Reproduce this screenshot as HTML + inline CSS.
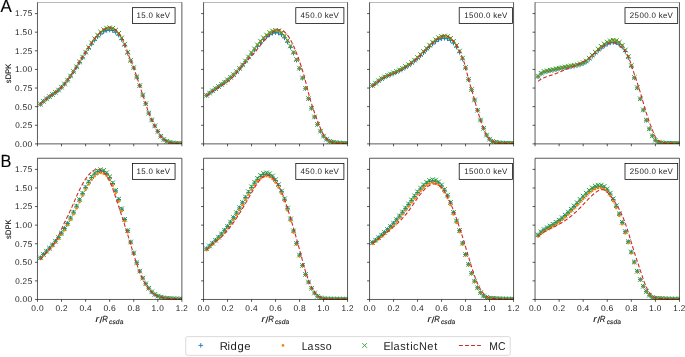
<!DOCTYPE html>
<html><head><meta charset="utf-8"><style>
html,body{margin:0;padding:0;background:#fff;}
svg{display:block;}
text{-webkit-font-smoothing:antialiased;text-rendering:geometricPrecision;}
text{font-family:"Liberation Sans", sans-serif;}
</style></head><body>
<svg width="685" height="357" viewBox="0 0 685 357" font-family="Liberation Sans, sans-serif">
<rect width="685" height="357" fill="#fff"/>
<defs>
<clipPath id="c00"><rect x="37.46" y="2.42" width="144.42" height="141.46"/></clipPath>
<clipPath id="c01"><rect x="203.55" y="2.42" width="144.00" height="141.46"/></clipPath>
<clipPath id="c02"><rect x="369.55" y="2.42" width="144.00" height="141.46"/></clipPath>
<clipPath id="c03"><rect x="535.05" y="2.42" width="144.40" height="141.46"/></clipPath>
<clipPath id="c10"><rect x="37.46" y="158.25" width="144.42" height="141.21"/></clipPath>
<clipPath id="c11"><rect x="203.55" y="158.25" width="144.00" height="141.21"/></clipPath>
<clipPath id="c12"><rect x="369.55" y="158.25" width="144.00" height="141.21"/></clipPath>
<clipPath id="c13"><rect x="535.05" y="158.25" width="144.40" height="141.21"/></clipPath>
</defs>
<g clip-path="url(#c00)">
<path d="M38.17 104.27h4.60M40.47 101.97v4.60M41.18 101.35h4.60M43.48 99.05v4.60M44.19 98.89h4.60M46.49 96.59v4.60M47.20 96.70h4.60M49.50 94.40v4.60M50.20 94.63h4.60M52.50 92.33v4.60M53.21 92.49h4.60M55.51 90.19v4.60M56.22 90.13h4.60M58.52 87.83v4.60M59.23 87.37h4.60M61.53 85.07v4.60M62.24 84.10h4.60M64.54 81.80v4.60M65.25 80.36h4.60M67.55 78.06v4.60M68.26 76.23h4.60M70.56 73.93v4.60M71.27 71.82h4.60M73.56 69.52v4.60M74.27 67.20h4.60M76.57 64.90v4.60M77.28 62.47h4.60M79.58 60.17v4.60M80.29 57.70h4.60M82.59 55.40v4.60M83.30 53.00h4.60M85.60 50.70v4.60M86.31 48.45h4.60M88.61 46.15v4.60M89.32 44.15h4.60M91.62 41.85v4.60M92.33 40.23h4.60M94.63 37.93v4.60M95.33 36.79h4.60M97.63 34.49v4.60M98.34 33.94h4.60M100.64 31.64v4.60M101.35 31.78h4.60M103.65 29.48v4.60M104.36 30.42h4.60M106.66 28.12v4.60M107.37 29.96h4.60M109.67 27.66v4.60M110.38 30.51h4.60M112.68 28.21v4.60M113.39 32.20h4.60M115.69 29.90v4.60M116.40 35.14h4.60M118.70 32.84v4.60M119.41 39.48h4.60M121.71 37.18v4.60M122.41 45.41h4.60M124.71 43.11v4.60M125.42 53.28h4.60M127.72 50.98v4.60M128.43 61.02h4.60M130.73 58.72v4.60M131.44 67.96h4.60M133.74 65.66v4.60M134.45 77.09h4.60M136.75 74.79v4.60M137.46 85.70h4.60M139.76 83.40v4.60M140.47 95.06h4.60M142.77 92.76v4.60M143.47 103.73h4.60M145.78 101.43v4.60M146.48 113.05h4.60M148.78 110.75v4.60M149.49 119.91h4.60M151.79 117.61v4.60M152.50 125.88h4.60M154.80 123.58v4.60M155.51 131.48h4.60M157.81 129.18v4.60M158.52 136.28h4.60M160.82 133.98v4.60M161.53 139.44h4.60M163.83 137.14v4.60M164.54 141.27h4.60M166.84 138.97v4.60M167.54 142.42h4.60M169.84 140.12v4.60M170.55 142.98h4.60M172.85 140.68v4.60M173.56 143.25h4.60M175.86 140.95v4.60M176.57 143.44h4.60M178.87 141.14v4.60M179.58 143.51h4.60M181.88 141.21v4.60" stroke="#1f77b4" stroke-width="1.0" fill="none"/>
<circle cx="40.47" cy="104.23" r="1.35" fill="#ff7f0e"/>
<circle cx="43.48" cy="101.31" r="1.35" fill="#ff7f0e"/>
<circle cx="46.49" cy="98.84" r="1.35" fill="#ff7f0e"/>
<circle cx="49.50" cy="96.64" r="1.35" fill="#ff7f0e"/>
<circle cx="52.50" cy="94.55" r="1.35" fill="#ff7f0e"/>
<circle cx="55.51" cy="92.40" r="1.35" fill="#ff7f0e"/>
<circle cx="58.52" cy="90.02" r="1.35" fill="#ff7f0e"/>
<circle cx="61.53" cy="87.25" r="1.35" fill="#ff7f0e"/>
<circle cx="64.54" cy="83.94" r="1.35" fill="#ff7f0e"/>
<circle cx="67.55" cy="80.16" r="1.35" fill="#ff7f0e"/>
<circle cx="70.56" cy="75.97" r="1.35" fill="#ff7f0e"/>
<circle cx="73.56" cy="71.48" r="1.35" fill="#ff7f0e"/>
<circle cx="76.57" cy="66.77" r="1.35" fill="#ff7f0e"/>
<circle cx="79.58" cy="61.91" r="1.35" fill="#ff7f0e"/>
<circle cx="82.59" cy="57.01" r="1.35" fill="#ff7f0e"/>
<circle cx="85.60" cy="52.13" r="1.35" fill="#ff7f0e"/>
<circle cx="88.61" cy="47.38" r="1.35" fill="#ff7f0e"/>
<circle cx="91.62" cy="42.87" r="1.35" fill="#ff7f0e"/>
<circle cx="94.63" cy="38.73" r="1.35" fill="#ff7f0e"/>
<circle cx="97.63" cy="35.07" r="1.35" fill="#ff7f0e"/>
<circle cx="100.64" cy="32.02" r="1.35" fill="#ff7f0e"/>
<circle cx="103.65" cy="29.69" r="1.35" fill="#ff7f0e"/>
<circle cx="106.66" cy="28.22" r="1.35" fill="#ff7f0e"/>
<circle cx="109.67" cy="27.72" r="1.35" fill="#ff7f0e"/>
<circle cx="112.68" cy="28.33" r="1.35" fill="#ff7f0e"/>
<circle cx="115.69" cy="30.15" r="1.35" fill="#ff7f0e"/>
<circle cx="118.70" cy="33.31" r="1.35" fill="#ff7f0e"/>
<circle cx="121.71" cy="37.94" r="1.35" fill="#ff7f0e"/>
<circle cx="124.71" cy="44.20" r="1.35" fill="#ff7f0e"/>
<circle cx="127.72" cy="52.42" r="1.35" fill="#ff7f0e"/>
<circle cx="130.73" cy="60.42" r="1.35" fill="#ff7f0e"/>
<circle cx="133.74" cy="67.55" r="1.35" fill="#ff7f0e"/>
<circle cx="136.75" cy="76.84" r="1.35" fill="#ff7f0e"/>
<circle cx="139.76" cy="85.56" r="1.35" fill="#ff7f0e"/>
<circle cx="142.77" cy="94.99" r="1.35" fill="#ff7f0e"/>
<circle cx="145.78" cy="103.70" r="1.35" fill="#ff7f0e"/>
<circle cx="148.78" cy="113.04" r="1.35" fill="#ff7f0e"/>
<circle cx="151.79" cy="119.91" r="1.35" fill="#ff7f0e"/>
<circle cx="154.80" cy="125.88" r="1.35" fill="#ff7f0e"/>
<circle cx="157.81" cy="131.48" r="1.35" fill="#ff7f0e"/>
<circle cx="160.82" cy="136.28" r="1.35" fill="#ff7f0e"/>
<circle cx="163.83" cy="139.44" r="1.35" fill="#ff7f0e"/>
<circle cx="166.84" cy="141.27" r="1.35" fill="#ff7f0e"/>
<circle cx="169.84" cy="142.42" r="1.35" fill="#ff7f0e"/>
<circle cx="172.85" cy="142.98" r="1.35" fill="#ff7f0e"/>
<circle cx="175.86" cy="143.25" r="1.35" fill="#ff7f0e"/>
<circle cx="178.87" cy="143.44" r="1.35" fill="#ff7f0e"/>
<circle cx="181.88" cy="143.51" r="1.35" fill="#ff7f0e"/>
<path d="M38.17 101.93l4.60 4.60M38.17 106.53l4.60 -4.60M41.18 99.01l4.60 4.60M41.18 103.61l4.60 -4.60M44.19 96.54l4.60 4.60M44.19 101.14l4.60 -4.60M47.20 94.34l4.60 4.60M47.20 98.94l4.60 -4.60M50.20 92.25l4.60 4.60M50.20 96.85l4.60 -4.60M53.21 90.10l4.60 4.60M53.21 94.70l4.60 -4.60M56.22 87.72l4.60 4.60M56.22 92.32l4.60 -4.60M59.23 84.95l4.60 4.60M59.23 89.55l4.60 -4.60M62.24 81.64l4.60 4.60M62.24 86.24l4.60 -4.60M65.25 77.86l4.60 4.60M65.25 82.46l4.60 -4.60M68.26 73.67l4.60 4.60M68.26 78.27l4.60 -4.60M71.27 69.18l4.60 4.60M71.27 73.78l4.60 -4.60M74.27 64.47l4.60 4.60M74.27 69.07l4.60 -4.60M77.28 59.61l4.60 4.60M77.28 64.21l4.60 -4.60M80.29 54.71l4.60 4.60M80.29 59.31l4.60 -4.60M83.30 49.83l4.60 4.60M83.30 54.43l4.60 -4.60M86.31 45.08l4.60 4.60M86.31 49.68l4.60 -4.60M89.32 40.57l4.60 4.60M89.32 45.17l4.60 -4.60M92.33 36.43l4.60 4.60M92.33 41.03l4.60 -4.60M95.33 32.77l4.60 4.60M95.33 37.37l4.60 -4.60M98.34 29.72l4.60 4.60M98.34 34.32l4.60 -4.60M101.35 27.39l4.60 4.60M101.35 31.99l4.60 -4.60M104.36 25.92l4.60 4.60M104.36 30.52l4.60 -4.60M107.37 25.42l4.60 4.60M107.37 30.02l4.60 -4.60M110.38 26.03l4.60 4.60M110.38 30.63l4.60 -4.60M113.39 27.85l4.60 4.60M113.39 32.45l4.60 -4.60M116.40 31.01l4.60 4.60M116.40 35.61l4.60 -4.60M119.41 35.64l4.60 4.60M119.41 40.24l4.60 -4.60M122.41 41.90l4.60 4.60M122.41 46.50l4.60 -4.60M125.42 50.12l4.60 4.60M125.42 54.72l4.60 -4.60M128.43 58.12l4.60 4.60M128.43 62.72l4.60 -4.60M131.44 65.25l4.60 4.60M131.44 69.85l4.60 -4.60M134.45 74.54l4.60 4.60M134.45 79.14l4.60 -4.60M137.46 83.26l4.60 4.60M137.46 87.86l4.60 -4.60M140.47 92.69l4.60 4.60M140.47 97.29l4.60 -4.60M143.47 101.40l4.60 4.60M143.47 106.00l4.60 -4.60M146.48 110.74l4.60 4.60M146.48 115.34l4.60 -4.60M149.49 117.61l4.60 4.60M149.49 122.21l4.60 -4.60M152.50 123.58l4.60 4.60M152.50 128.18l4.60 -4.60M155.51 129.18l4.60 4.60M155.51 133.78l4.60 -4.60M158.52 133.98l4.60 4.60M158.52 138.58l4.60 -4.60M161.53 137.14l4.60 4.60M161.53 141.74l4.60 -4.60M164.54 138.97l4.60 4.60M164.54 143.57l4.60 -4.60M167.54 140.12l4.60 4.60M167.54 144.72l4.60 -4.60M170.55 140.68l4.60 4.60M170.55 145.28l4.60 -4.60M173.56 140.95l4.60 4.60M173.56 145.55l4.60 -4.60M176.57 141.14l4.60 4.60M176.57 145.74l4.60 -4.60M179.58 141.21l4.60 4.60M179.58 145.81l4.60 -4.60" stroke="#2ca02c" stroke-width="1.0" fill="none"/>
<polyline points="40.47,104.23 41.07,103.61 41.67,103.00 42.27,102.42 42.88,101.86 43.48,101.31 44.08,100.79 44.68,100.28 45.28,99.79 45.88,99.31 46.49,98.84 47.09,98.38 47.69,97.94 48.29,97.50 48.89,97.07 49.50,96.64 50.10,96.22 50.70,95.80 51.30,95.39 51.90,94.97 52.50,94.55 53.11,94.13 53.71,93.71 54.31,93.28 54.91,92.85 55.51,92.40 56.11,91.95 56.72,91.49 57.32,91.01 57.92,90.53 58.52,90.02 59.12,89.51 59.72,88.97 60.33,88.42 60.93,87.84 61.53,87.25 62.13,86.63 62.73,85.99 63.34,85.33 63.94,84.64 64.54,83.94 65.14,83.22 65.74,82.48 66.34,81.72 66.95,80.95 67.55,80.16 68.15,79.35 68.75,78.53 69.35,77.69 69.95,76.84 70.56,75.97 71.16,75.10 71.76,74.21 72.36,73.31 72.96,72.40 73.56,71.48 74.17,70.55 74.77,69.62 75.37,68.67 75.97,67.72 76.57,66.77 77.18,65.80 77.78,64.84 78.38,63.86 78.98,62.89 79.58,61.91 80.18,60.93 80.79,59.95 81.39,58.97 81.99,57.99 82.59,57.01 83.19,56.03 83.79,55.05 84.40,54.07 85.00,53.10 85.60,52.13 86.20,51.17 86.80,50.21 87.41,49.26 88.01,48.32 88.61,47.38 89.21,46.46 89.81,45.54 90.41,44.64 91.02,43.75 91.62,42.87 92.22,42.01 92.82,41.17 93.42,40.34 94.02,39.52 94.63,38.73 95.23,37.95 95.83,37.20 96.43,36.47 97.03,35.76 97.63,35.07 98.24,34.41 98.84,33.77 99.44,33.16 100.04,32.57 100.64,32.02 101.25,31.49 101.85,30.99 102.45,30.53 103.05,30.09 103.65,29.69 104.25,29.33 104.86,28.99 105.46,28.70 106.06,28.44 106.66,28.22 107.26,28.04 107.86,27.90 108.47,27.80 109.07,27.74 109.67,27.72 110.27,27.75 110.87,27.83 111.48,27.95 112.08,28.11 112.68,28.33 113.28,28.59 113.88,28.90 114.48,29.26 115.09,29.68 115.69,30.15 116.29,30.67 116.89,31.24 117.49,31.88 118.09,32.56 118.70,33.31 119.30,34.11 119.90,34.98 120.50,35.90 121.10,36.89 121.71,37.94 122.31,39.05 122.91,40.23 123.51,41.48 124.11,42.80 124.71,44.20 125.32,45.68 125.92,47.24 126.52,48.89 127.12,50.62 127.72,52.42 128.32,54.23 128.93,55.97 129.53,57.58 130.13,59.05 130.73,60.42 131.33,61.76 131.93,63.09 132.54,64.47 133.14,65.94 133.74,67.55 134.34,69.32 134.94,71.21 135.55,73.14 136.15,75.03 136.75,76.84 137.35,78.58 137.95,80.28 138.55,81.99 139.16,83.74 139.76,85.56 140.36,87.47 140.96,89.42 141.56,91.35 142.16,93.22 142.77,94.99 143.37,96.70 143.97,98.39 144.57,100.09 145.17,101.85 145.78,103.70 146.38,105.64 146.98,107.62 147.58,109.56 148.18,111.38 148.78,113.04 149.39,114.56 149.99,115.98 150.59,117.32 151.19,118.62 151.79,119.91 152.39,121.17 153.00,122.40 153.60,123.60 154.20,124.75 154.80,125.88 155.40,126.97 156.00,128.05 156.61,129.15 157.21,130.31 157.81,131.48 158.41,132.62 159.01,133.70 159.62,134.68 160.22,135.54 160.82,136.28 161.42,136.99 162.02,137.67 162.62,138.30 163.23,138.90 163.83,139.44 164.43,139.92 165.03,140.34 165.63,140.69 166.23,140.99 166.84,141.27 167.44,141.54 168.04,141.79 168.64,142.02 169.24,142.23 169.84,142.42 170.45,142.58 171.05,142.72 171.65,142.83 172.25,142.91 172.85,142.98 173.46,143.04 174.06,143.10 174.66,143.15 175.26,143.21 175.86,143.25 176.46,143.30 177.07,143.34 177.67,143.38 178.27,143.41 178.87,143.44 179.47,143.46 180.07,143.48 180.68,143.50 181.28,143.50 181.88,143.51" stroke="#d62728" stroke-width="1.1" fill="none" stroke-dasharray="3.9 2.2"/>
</g>
<path d="M34.96 143.88H37.46M34.96 125.27H37.46M34.96 106.65H37.46M34.96 88.04H37.46M34.96 69.43H37.46M34.96 50.81H37.46M34.96 32.20H37.46M34.96 13.59H37.46M37.46 143.88V146.28M61.53 143.88V146.28M85.60 143.88V146.28M109.67 143.88V146.28M133.74 143.88V146.28M157.81 143.88V146.28M181.88 143.88V146.28" stroke="#000" stroke-width="0.65" fill="none"/>
<path d="M37.46 2.42V143.88M181.88 2.42V143.88M37.46 143.88H181.88" stroke="#000" stroke-width="0.65" fill="none"/>
<path d="M37.16 2.5H182.18" stroke="#000" stroke-opacity="0.27" stroke-width="1" fill="none"/>
<rect x="132.46" y="7.67" width="42.60" height="15.85" fill="#fff" stroke="#000" stroke-width="0.75"/>
<g clip-path="url(#c01)">
<path d="M204.25 95.41h4.60M206.55 93.11v4.60M207.25 93.12h4.60M209.55 90.82v4.60M210.25 90.93h4.60M212.55 88.63v4.60M213.25 88.81h4.60M215.55 86.51v4.60M216.25 86.70h4.60M218.55 84.40v4.60M219.25 84.58h4.60M221.55 82.28v4.60M222.25 82.38h4.60M224.55 80.08v4.60M225.25 80.07h4.60M227.55 77.77v4.60M228.25 77.61h4.60M230.55 75.31v4.60M231.25 74.94h4.60M233.55 72.64v4.60M234.25 72.04h4.60M236.55 69.74v4.60M237.25 68.86h4.60M239.55 66.56v4.60M240.25 65.37h4.60M242.55 63.07v4.60M243.25 61.63h4.60M245.55 59.33v4.60M246.25 57.75h4.60M248.55 55.45v4.60M249.25 53.82h4.60M251.55 51.52v4.60M252.25 49.95h4.60M254.55 47.65v4.60M255.25 46.22h4.60M257.55 43.92v4.60M258.25 42.74h4.60M260.55 40.44v4.60M261.25 39.60h4.60M263.55 37.30v4.60M264.25 36.88h4.60M266.55 34.58v4.60M267.25 34.69h4.60M269.55 32.39v4.60M270.25 33.20h4.60M272.55 30.90v4.60M273.25 32.59h4.60M275.55 30.29v4.60M276.25 33.03h4.60M278.55 30.73v4.60M279.25 34.73h4.60M281.55 32.43v4.60M282.25 37.80h4.60M284.55 35.50v4.60M285.25 42.05h4.60M287.55 39.75v4.60M288.25 47.22h4.60M290.55 44.92v4.60M291.25 53.16h4.60M293.55 50.86v4.60M294.25 60.21h4.60M296.55 57.91v4.60M297.25 68.61h4.60M299.55 66.31v4.60M300.25 78.15h4.60M302.55 75.85v4.60M303.25 88.42h4.60M305.55 86.12v4.60M306.25 98.66h4.60M308.55 96.36v4.60M309.25 108.25h4.60M311.55 105.95v4.60M312.25 116.97h4.60M314.55 114.67v4.60M315.25 124.41h4.60M317.55 122.11v4.60M318.25 131.16h4.60M320.55 128.86v4.60M321.25 136.12h4.60M323.55 133.82v4.60M324.25 139.23h4.60M326.55 136.93v4.60M327.25 141.29h4.60M329.55 138.99v4.60M330.25 142.15h4.60M332.55 139.85v4.60M333.25 142.65h4.60M335.55 140.35v4.60M336.25 142.97h4.60M338.55 140.67v4.60M339.25 143.23h4.60M341.55 140.93v4.60M342.25 143.43h4.60M344.55 141.13v4.60M345.25 143.51h4.60M347.55 141.21v4.60" stroke="#1f77b4" stroke-width="1.0" fill="none"/>
<circle cx="206.55" cy="95.33" r="1.35" fill="#ff7f0e"/>
<circle cx="209.55" cy="93.03" r="1.35" fill="#ff7f0e"/>
<circle cx="212.55" cy="90.82" r="1.35" fill="#ff7f0e"/>
<circle cx="215.55" cy="88.68" r="1.35" fill="#ff7f0e"/>
<circle cx="218.55" cy="86.56" r="1.35" fill="#ff7f0e"/>
<circle cx="221.55" cy="84.41" r="1.35" fill="#ff7f0e"/>
<circle cx="224.55" cy="82.18" r="1.35" fill="#ff7f0e"/>
<circle cx="227.55" cy="79.84" r="1.35" fill="#ff7f0e"/>
<circle cx="230.55" cy="77.34" r="1.35" fill="#ff7f0e"/>
<circle cx="233.55" cy="74.63" r="1.35" fill="#ff7f0e"/>
<circle cx="236.55" cy="71.68" r="1.35" fill="#ff7f0e"/>
<circle cx="239.55" cy="68.42" r="1.35" fill="#ff7f0e"/>
<circle cx="242.55" cy="64.84" r="1.35" fill="#ff7f0e"/>
<circle cx="245.55" cy="61.00" r="1.35" fill="#ff7f0e"/>
<circle cx="248.55" cy="56.98" r="1.35" fill="#ff7f0e"/>
<circle cx="251.55" cy="52.90" r="1.35" fill="#ff7f0e"/>
<circle cx="254.55" cy="48.85" r="1.35" fill="#ff7f0e"/>
<circle cx="257.55" cy="44.93" r="1.35" fill="#ff7f0e"/>
<circle cx="260.55" cy="41.25" r="1.35" fill="#ff7f0e"/>
<circle cx="263.55" cy="37.90" r="1.35" fill="#ff7f0e"/>
<circle cx="266.55" cy="34.99" r="1.35" fill="#ff7f0e"/>
<circle cx="269.55" cy="32.63" r="1.35" fill="#ff7f0e"/>
<circle cx="272.55" cy="31.02" r="1.35" fill="#ff7f0e"/>
<circle cx="275.55" cy="30.36" r="1.35" fill="#ff7f0e"/>
<circle cx="278.55" cy="30.84" r="1.35" fill="#ff7f0e"/>
<circle cx="281.55" cy="32.67" r="1.35" fill="#ff7f0e"/>
<circle cx="284.55" cy="35.97" r="1.35" fill="#ff7f0e"/>
<circle cx="287.55" cy="40.52" r="1.35" fill="#ff7f0e"/>
<circle cx="290.55" cy="45.98" r="1.35" fill="#ff7f0e"/>
<circle cx="293.55" cy="52.21" r="1.35" fill="#ff7f0e"/>
<circle cx="296.55" cy="59.53" r="1.35" fill="#ff7f0e"/>
<circle cx="299.55" cy="68.16" r="1.35" fill="#ff7f0e"/>
<circle cx="302.55" cy="77.89" r="1.35" fill="#ff7f0e"/>
<circle cx="305.55" cy="88.29" r="1.35" fill="#ff7f0e"/>
<circle cx="308.55" cy="98.61" r="1.35" fill="#ff7f0e"/>
<circle cx="311.55" cy="108.23" r="1.35" fill="#ff7f0e"/>
<circle cx="314.55" cy="116.96" r="1.35" fill="#ff7f0e"/>
<circle cx="317.55" cy="124.41" r="1.35" fill="#ff7f0e"/>
<circle cx="320.55" cy="131.16" r="1.35" fill="#ff7f0e"/>
<circle cx="323.55" cy="136.12" r="1.35" fill="#ff7f0e"/>
<circle cx="326.55" cy="139.23" r="1.35" fill="#ff7f0e"/>
<circle cx="329.55" cy="141.29" r="1.35" fill="#ff7f0e"/>
<circle cx="332.55" cy="142.15" r="1.35" fill="#ff7f0e"/>
<circle cx="335.55" cy="142.65" r="1.35" fill="#ff7f0e"/>
<circle cx="338.55" cy="142.97" r="1.35" fill="#ff7f0e"/>
<circle cx="341.55" cy="143.23" r="1.35" fill="#ff7f0e"/>
<circle cx="344.55" cy="143.43" r="1.35" fill="#ff7f0e"/>
<circle cx="347.55" cy="143.51" r="1.35" fill="#ff7f0e"/>
<path d="M204.25 93.03l4.60 4.60M204.25 97.63l4.60 -4.60M207.25 90.73l4.60 4.60M207.25 95.33l4.60 -4.60M210.25 88.52l4.60 4.60M210.25 93.12l4.60 -4.60M213.25 86.38l4.60 4.60M213.25 90.98l4.60 -4.60M216.25 84.26l4.60 4.60M216.25 88.86l4.60 -4.60M219.25 82.11l4.60 4.60M219.25 86.71l4.60 -4.60M222.25 79.88l4.60 4.60M222.25 84.48l4.60 -4.60M225.25 77.54l4.60 4.60M225.25 82.14l4.60 -4.60M228.25 75.04l4.60 4.60M228.25 79.64l4.60 -4.60M231.25 72.33l4.60 4.60M231.25 76.93l4.60 -4.60M234.25 69.38l4.60 4.60M234.25 73.98l4.60 -4.60M237.25 66.12l4.60 4.60M237.25 70.72l4.60 -4.60M240.25 62.54l4.60 4.60M240.25 67.14l4.60 -4.60M243.25 58.70l4.60 4.60M243.25 63.30l4.60 -4.60M246.25 54.68l4.60 4.60M246.25 59.28l4.60 -4.60M249.25 50.60l4.60 4.60M249.25 55.20l4.60 -4.60M252.25 46.55l4.60 4.60M252.25 51.15l4.60 -4.60M255.25 42.63l4.60 4.60M255.25 47.23l4.60 -4.60M258.25 38.95l4.60 4.60M258.25 43.55l4.60 -4.60M261.25 35.60l4.60 4.60M261.25 40.20l4.60 -4.60M264.25 32.69l4.60 4.60M264.25 37.29l4.60 -4.60M267.25 30.33l4.60 4.60M267.25 34.93l4.60 -4.60M270.25 28.72l4.60 4.60M270.25 33.32l4.60 -4.60M273.25 28.06l4.60 4.60M273.25 32.66l4.60 -4.60M276.25 28.54l4.60 4.60M276.25 33.14l4.60 -4.60M279.25 30.37l4.60 4.60M279.25 34.97l4.60 -4.60M282.25 33.67l4.60 4.60M282.25 38.27l4.60 -4.60M285.25 38.22l4.60 4.60M285.25 42.82l4.60 -4.60M288.25 43.68l4.60 4.60M288.25 48.28l4.60 -4.60M291.25 49.91l4.60 4.60M291.25 54.51l4.60 -4.60M294.25 57.23l4.60 4.60M294.25 61.83l4.60 -4.60M297.25 65.86l4.60 4.60M297.25 70.46l4.60 -4.60M300.25 75.59l4.60 4.60M300.25 80.19l4.60 -4.60M303.25 85.99l4.60 4.60M303.25 90.59l4.60 -4.60M306.25 96.31l4.60 4.60M306.25 100.91l4.60 -4.60M309.25 105.93l4.60 4.60M309.25 110.53l4.60 -4.60M312.25 114.66l4.60 4.60M312.25 119.26l4.60 -4.60M315.25 122.11l4.60 4.60M315.25 126.71l4.60 -4.60M318.25 128.86l4.60 4.60M318.25 133.46l4.60 -4.60M321.25 133.82l4.60 4.60M321.25 138.42l4.60 -4.60M324.25 136.93l4.60 4.60M324.25 141.53l4.60 -4.60M327.25 138.99l4.60 4.60M327.25 143.59l4.60 -4.60M330.25 139.85l4.60 4.60M330.25 144.45l4.60 -4.60M333.25 140.35l4.60 4.60M333.25 144.95l4.60 -4.60M336.25 140.67l4.60 4.60M336.25 145.27l4.60 -4.60M339.25 140.93l4.60 4.60M339.25 145.53l4.60 -4.60M342.25 141.13l4.60 4.60M342.25 145.73l4.60 -4.60M345.25 141.21l4.60 4.60M345.25 145.81l4.60 -4.60" stroke="#2ca02c" stroke-width="1.0" fill="none"/>
<polyline points="206.55,96.16 207.15,95.63 207.75,95.11 208.35,94.60 208.95,94.11 209.55,93.64 210.15,93.17 210.75,92.72 211.35,92.28 211.95,91.85 212.55,91.44 213.15,91.02 213.75,90.62 214.35,90.23 214.95,89.84 215.55,89.45 216.15,89.07 216.75,88.70 217.35,88.33 217.95,87.95 218.55,87.59 219.15,87.22 219.75,86.85 220.35,86.48 220.95,86.10 221.55,85.73 222.15,85.35 222.75,84.97 223.35,84.58 223.95,84.18 224.55,83.78 225.15,83.37 225.75,82.95 226.35,82.52 226.95,82.08 227.55,81.63 228.15,81.17 228.75,80.69 229.35,80.20 229.95,79.70 230.55,79.18 231.15,78.65 231.75,78.09 232.35,77.52 232.95,76.93 233.55,76.33 234.15,75.70 234.75,75.05 235.35,74.38 235.95,73.69 236.55,72.98 237.15,72.27 237.75,71.54 238.35,70.80 238.95,70.06 239.55,69.31 240.15,68.56 240.75,67.81 241.35,67.06 241.95,66.32 242.55,65.58 243.15,64.86 243.75,64.14 244.35,63.44 244.95,62.76 245.55,62.10 246.15,61.45 246.75,60.82 247.35,60.21 247.95,59.60 248.55,59.01 249.15,58.41 249.75,57.82 250.35,57.23 250.95,56.62 251.55,56.01 252.15,55.38 252.75,54.74 253.35,54.08 253.95,53.39 254.55,52.70 255.15,51.99 255.75,51.26 256.35,50.53 256.95,49.78 257.55,49.03 258.15,48.28 258.75,47.52 259.35,46.75 259.95,45.99 260.55,45.22 261.15,44.46 261.75,43.70 262.35,42.95 262.95,42.20 263.55,41.46 264.15,40.73 264.75,40.02 265.35,39.31 265.95,38.62 266.55,37.94 267.15,37.28 267.75,36.63 268.35,36.01 268.95,35.41 269.55,34.83 270.15,34.27 270.75,33.74 271.35,33.23 271.95,32.76 272.55,32.31 273.15,31.90 273.75,31.52 274.35,31.17 274.95,30.86 275.55,30.59 276.15,30.35 276.75,30.16 277.35,30.00 277.95,29.89 278.55,29.83 279.15,29.81 279.75,29.83 280.35,29.91 280.95,30.04 281.55,30.22 282.15,30.45 282.75,30.74 283.35,31.08 283.95,31.48 284.55,31.94 285.15,32.46 285.75,33.05 286.35,33.70 286.95,34.41 287.55,35.18 288.15,36.01 288.75,36.90 289.35,37.85 289.95,38.85 290.55,39.91 291.15,41.02 291.75,42.19 292.35,43.40 292.95,44.67 293.55,45.98 294.15,47.34 294.75,48.74 295.35,50.19 295.95,51.68 296.55,53.21 297.15,54.78 297.75,56.39 298.35,58.03 298.95,59.72 299.55,61.44 300.15,63.20 300.75,65.00 301.35,66.84 301.95,68.74 302.55,70.69 303.15,72.68 303.75,74.74 304.35,76.85 304.95,79.03 305.55,81.27 306.15,83.57 306.75,85.94 307.35,88.37 307.95,90.82 308.55,93.24 309.15,95.58 309.75,97.79 310.35,99.89 310.95,101.87 311.55,103.78 312.15,105.63 312.75,107.45 313.35,109.24 313.95,111.02 314.55,112.78 315.15,114.51 315.75,116.22 316.35,117.89 316.95,119.50 317.55,121.04 318.15,122.54 318.75,124.00 319.35,125.48 319.95,126.99 320.55,128.50 321.15,129.97 321.75,131.32 322.35,132.52 322.95,133.64 323.55,134.71 324.15,135.70 324.75,136.60 325.35,137.39 325.95,138.07 326.55,138.68 327.15,139.25 327.75,139.79 328.35,140.29 328.95,140.73 329.55,141.11 330.15,141.42 330.75,141.65 331.35,141.83 331.95,141.99 332.55,142.14 333.15,142.28 333.75,142.40 334.35,142.52 334.95,142.62 335.55,142.71 336.15,142.79 336.75,142.87 337.35,142.93 337.95,142.99 338.55,143.04 339.15,143.09 339.75,143.14 340.35,143.18 340.95,143.23 341.55,143.27 342.15,143.31 342.75,143.35 343.35,143.38 343.95,143.42 344.55,143.44 345.15,143.47 345.75,143.48 346.35,143.50 346.95,143.50 347.55,143.51" stroke="#d62728" stroke-width="1.1" fill="none" stroke-dasharray="3.9 2.2"/>
</g>
<path d="M201.05 143.88H203.55M201.05 125.27H203.55M201.05 106.65H203.55M201.05 88.04H203.55M201.05 69.43H203.55M201.05 50.81H203.55M201.05 32.20H203.55M201.05 13.59H203.55M203.55 143.88V146.28M227.55 143.88V146.28M251.55 143.88V146.28M275.55 143.88V146.28M299.55 143.88V146.28M323.55 143.88V146.28M347.55 143.88V146.28" stroke="#000" stroke-width="0.65" fill="none"/>
<path d="M203.55 2.42V143.88M347.55 2.42V143.88M203.55 143.88H347.55" stroke="#000" stroke-width="0.65" fill="none"/>
<path d="M203.25 2.5H347.85" stroke="#000" stroke-opacity="0.27" stroke-width="1" fill="none"/>
<rect x="295.80" y="7.67" width="48.10" height="15.85" fill="#fff" stroke="#000" stroke-width="0.75"/>
<g clip-path="url(#c02)">
<path d="M370.25 85.60h4.60M372.55 83.30v4.60M373.25 83.37h4.60M375.55 81.07v4.60M376.25 80.97h4.60M378.55 78.67v4.60M379.25 78.90h4.60M381.55 76.60v4.60M382.25 77.20h4.60M384.55 74.90v4.60M385.25 75.76h4.60M387.55 73.46v4.60M388.25 74.46h4.60M390.55 72.16v4.60M391.25 73.20h4.60M393.55 70.90v4.60M394.25 71.88h4.60M396.55 69.58v4.60M397.25 70.44h4.60M399.55 68.14v4.60M400.25 68.88h4.60M402.55 66.58v4.60M403.25 67.17h4.60M405.55 64.87v4.60M406.25 65.29h4.60M408.55 62.99v4.60M409.25 63.21h4.60M411.55 60.91v4.60M412.25 60.93h4.60M414.55 58.63v4.60M415.25 58.41h4.60M417.55 56.11v4.60M418.25 55.65h4.60M420.55 53.35v4.60M421.25 52.68h4.60M423.55 50.38v4.60M424.25 49.64h4.60M426.55 47.34v4.60M427.25 46.68h4.60M429.55 44.38v4.60M430.25 43.95h4.60M432.55 41.65v4.60M433.25 41.60h4.60M435.55 39.30v4.60M436.25 39.77h4.60M438.55 37.47v4.60M439.25 38.60h4.60M441.55 36.30v4.60M442.25 38.22h4.60M444.55 35.92v4.60M445.25 38.78h4.60M447.55 36.48v4.60M448.25 40.36h4.60M450.55 38.06v4.60M451.25 43.07h4.60M453.55 40.77v4.60M454.25 47.00h4.60M456.55 44.70v4.60M457.25 52.27h4.60M459.55 49.97v4.60M460.25 59.02h4.60M462.55 56.72v4.60M463.25 67.97h4.60M465.55 65.67v4.60M466.25 79.56h4.60M468.55 77.26v4.60M469.25 89.70h4.60M471.55 87.40v4.60M472.25 100.01h4.60M474.55 97.71v4.60M475.25 110.34h4.60M477.55 108.04v4.60M478.25 120.04h4.60M480.55 117.74v4.60M481.25 128.34h4.60M483.55 126.04v4.60M484.25 135.10h4.60M486.55 132.80v4.60M487.25 139.18h4.60M489.55 136.88v4.60M490.25 141.41h4.60M492.55 139.11v4.60M493.25 142.29h4.60M495.55 139.99v4.60M496.25 142.80h4.60M498.55 140.50v4.60M499.25 143.04h4.60M501.55 140.74v4.60M502.25 143.23h4.60M504.55 140.93v4.60M505.25 143.38h4.60M507.55 141.08v4.60M508.25 143.47h4.60M510.55 141.17v4.60M511.25 143.51h4.60M513.55 141.21v4.60" stroke="#1f77b4" stroke-width="1.0" fill="none"/>
<circle cx="372.55" cy="85.41" r="1.35" fill="#ff7f0e"/>
<circle cx="375.55" cy="83.14" r="1.35" fill="#ff7f0e"/>
<circle cx="378.55" cy="80.70" r="1.35" fill="#ff7f0e"/>
<circle cx="381.55" cy="78.60" r="1.35" fill="#ff7f0e"/>
<circle cx="384.55" cy="76.87" r="1.35" fill="#ff7f0e"/>
<circle cx="387.55" cy="75.40" r="1.35" fill="#ff7f0e"/>
<circle cx="390.55" cy="74.07" r="1.35" fill="#ff7f0e"/>
<circle cx="393.55" cy="72.78" r="1.35" fill="#ff7f0e"/>
<circle cx="396.55" cy="71.42" r="1.35" fill="#ff7f0e"/>
<circle cx="399.55" cy="69.95" r="1.35" fill="#ff7f0e"/>
<circle cx="402.55" cy="68.35" r="1.35" fill="#ff7f0e"/>
<circle cx="405.55" cy="66.58" r="1.35" fill="#ff7f0e"/>
<circle cx="408.55" cy="64.64" r="1.35" fill="#ff7f0e"/>
<circle cx="411.55" cy="62.49" r="1.35" fill="#ff7f0e"/>
<circle cx="414.55" cy="60.12" r="1.35" fill="#ff7f0e"/>
<circle cx="417.55" cy="57.50" r="1.35" fill="#ff7f0e"/>
<circle cx="420.55" cy="54.60" r="1.35" fill="#ff7f0e"/>
<circle cx="423.55" cy="51.48" r="1.35" fill="#ff7f0e"/>
<circle cx="426.55" cy="48.26" r="1.35" fill="#ff7f0e"/>
<circle cx="429.55" cy="45.11" r="1.35" fill="#ff7f0e"/>
<circle cx="432.55" cy="42.19" r="1.35" fill="#ff7f0e"/>
<circle cx="435.55" cy="39.66" r="1.35" fill="#ff7f0e"/>
<circle cx="438.55" cy="37.67" r="1.35" fill="#ff7f0e"/>
<circle cx="441.55" cy="36.40" r="1.35" fill="#ff7f0e"/>
<circle cx="444.55" cy="35.99" r="1.35" fill="#ff7f0e"/>
<circle cx="447.55" cy="36.59" r="1.35" fill="#ff7f0e"/>
<circle cx="450.55" cy="38.32" r="1.35" fill="#ff7f0e"/>
<circle cx="453.55" cy="41.24" r="1.35" fill="#ff7f0e"/>
<circle cx="456.55" cy="45.45" r="1.35" fill="#ff7f0e"/>
<circle cx="459.55" cy="51.04" r="1.35" fill="#ff7f0e"/>
<circle cx="462.55" cy="58.13" r="1.35" fill="#ff7f0e"/>
<circle cx="465.55" cy="67.41" r="1.35" fill="#ff7f0e"/>
<circle cx="468.55" cy="79.27" r="1.35" fill="#ff7f0e"/>
<circle cx="471.55" cy="89.56" r="1.35" fill="#ff7f0e"/>
<circle cx="474.55" cy="99.95" r="1.35" fill="#ff7f0e"/>
<circle cx="477.55" cy="110.32" r="1.35" fill="#ff7f0e"/>
<circle cx="480.55" cy="120.03" r="1.35" fill="#ff7f0e"/>
<circle cx="483.55" cy="128.34" r="1.35" fill="#ff7f0e"/>
<circle cx="486.55" cy="135.10" r="1.35" fill="#ff7f0e"/>
<circle cx="489.55" cy="139.18" r="1.35" fill="#ff7f0e"/>
<circle cx="492.55" cy="141.41" r="1.35" fill="#ff7f0e"/>
<circle cx="495.55" cy="142.29" r="1.35" fill="#ff7f0e"/>
<circle cx="498.55" cy="142.80" r="1.35" fill="#ff7f0e"/>
<circle cx="501.55" cy="143.04" r="1.35" fill="#ff7f0e"/>
<circle cx="504.55" cy="143.23" r="1.35" fill="#ff7f0e"/>
<circle cx="507.55" cy="143.38" r="1.35" fill="#ff7f0e"/>
<circle cx="510.55" cy="143.47" r="1.35" fill="#ff7f0e"/>
<circle cx="513.55" cy="143.51" r="1.35" fill="#ff7f0e"/>
<path d="M370.25 83.11l4.60 4.60M370.25 87.71l4.60 -4.60M373.25 80.84l4.60 4.60M373.25 85.44l4.60 -4.60M376.25 78.40l4.60 4.60M376.25 83.00l4.60 -4.60M379.25 76.30l4.60 4.60M379.25 80.90l4.60 -4.60M382.25 74.57l4.60 4.60M382.25 79.17l4.60 -4.60M385.25 73.10l4.60 4.60M385.25 77.70l4.60 -4.60M388.25 71.77l4.60 4.60M388.25 76.37l4.60 -4.60M391.25 70.48l4.60 4.60M391.25 75.08l4.60 -4.60M394.25 69.12l4.60 4.60M394.25 73.72l4.60 -4.60M397.25 67.65l4.60 4.60M397.25 72.25l4.60 -4.60M400.25 66.05l4.60 4.60M400.25 70.65l4.60 -4.60M403.25 64.28l4.60 4.60M403.25 68.88l4.60 -4.60M406.25 62.34l4.60 4.60M406.25 66.94l4.60 -4.60M409.25 60.19l4.60 4.60M409.25 64.79l4.60 -4.60M412.25 57.82l4.60 4.60M412.25 62.42l4.60 -4.60M415.25 55.20l4.60 4.60M415.25 59.80l4.60 -4.60M418.25 52.30l4.60 4.60M418.25 56.90l4.60 -4.60M421.25 49.18l4.60 4.60M421.25 53.78l4.60 -4.60M424.25 45.96l4.60 4.60M424.25 50.56l4.60 -4.60M427.25 42.81l4.60 4.60M427.25 47.41l4.60 -4.60M430.25 39.89l4.60 4.60M430.25 44.49l4.60 -4.60M433.25 37.36l4.60 4.60M433.25 41.96l4.60 -4.60M436.25 35.37l4.60 4.60M436.25 39.97l4.60 -4.60M439.25 34.10l4.60 4.60M439.25 38.70l4.60 -4.60M442.25 33.69l4.60 4.60M442.25 38.29l4.60 -4.60M445.25 34.29l4.60 4.60M445.25 38.89l4.60 -4.60M448.25 36.02l4.60 4.60M448.25 40.62l4.60 -4.60M451.25 38.94l4.60 4.60M451.25 43.54l4.60 -4.60M454.25 43.15l4.60 4.60M454.25 47.75l4.60 -4.60M457.25 48.74l4.60 4.60M457.25 53.34l4.60 -4.60M460.25 55.83l4.60 4.60M460.25 60.43l4.60 -4.60M463.25 65.11l4.60 4.60M463.25 69.71l4.60 -4.60M466.25 76.97l4.60 4.60M466.25 81.57l4.60 -4.60M469.25 87.26l4.60 4.60M469.25 91.86l4.60 -4.60M472.25 97.65l4.60 4.60M472.25 102.25l4.60 -4.60M475.25 108.02l4.60 4.60M475.25 112.62l4.60 -4.60M478.25 117.73l4.60 4.60M478.25 122.33l4.60 -4.60M481.25 126.04l4.60 4.60M481.25 130.64l4.60 -4.60M484.25 132.80l4.60 4.60M484.25 137.40l4.60 -4.60M487.25 136.88l4.60 4.60M487.25 141.48l4.60 -4.60M490.25 139.11l4.60 4.60M490.25 143.71l4.60 -4.60M493.25 139.99l4.60 4.60M493.25 144.59l4.60 -4.60M496.25 140.50l4.60 4.60M496.25 145.10l4.60 -4.60M499.25 140.74l4.60 4.60M499.25 145.34l4.60 -4.60M502.25 140.93l4.60 4.60M502.25 145.53l4.60 -4.60M505.25 141.08l4.60 4.60M505.25 145.68l4.60 -4.60M508.25 141.17l4.60 4.60M508.25 145.77l4.60 -4.60M511.25 141.21l4.60 4.60M511.25 145.81l4.60 -4.60" stroke="#2ca02c" stroke-width="1.0" fill="none"/>
<polyline points="372.55,86.35 373.15,85.94 373.75,85.49 374.35,85.02 374.95,84.54 375.55,84.04 376.15,83.53 376.75,83.02 377.35,82.51 377.95,82.01 378.55,81.53 379.15,81.07 379.75,80.62 380.35,80.20 380.95,79.80 381.55,79.41 382.15,79.05 382.75,78.70 383.35,78.36 383.95,78.04 384.55,77.72 385.15,77.43 385.75,77.14 386.35,76.86 386.95,76.59 387.55,76.32 388.15,76.06 388.75,75.81 389.35,75.56 389.95,75.31 390.55,75.07 391.15,74.82 391.75,74.58 392.35,74.33 392.95,74.08 393.55,73.82 394.15,73.56 394.75,73.29 395.35,73.02 395.95,72.74 396.55,72.46 397.15,72.16 397.75,71.87 398.35,71.56 398.95,71.25 399.55,70.94 400.15,70.61 400.75,70.29 401.35,69.95 401.95,69.61 402.55,69.26 403.15,68.90 403.75,68.54 404.35,68.17 404.95,67.79 405.55,67.41 406.15,67.02 406.75,66.62 407.35,66.22 407.95,65.81 408.55,65.39 409.15,64.96 409.75,64.53 410.35,64.09 410.95,63.64 411.55,63.18 412.15,62.72 412.75,62.25 413.35,61.77 413.95,61.28 414.55,60.79 415.15,60.29 415.75,59.78 416.35,59.26 416.95,58.73 417.55,58.20 418.15,57.66 418.75,57.11 419.35,56.55 419.95,55.98 420.55,55.41 421.15,54.83 421.75,54.24 422.35,53.65 422.95,53.05 423.55,52.44 424.15,51.84 424.75,51.23 425.35,50.62 425.95,50.01 426.55,49.39 427.15,48.78 427.75,48.18 428.35,47.57 428.95,46.96 429.55,46.37 430.15,45.77 430.75,45.18 431.35,44.60 431.95,44.02 432.55,43.45 433.15,42.90 433.75,42.35 434.35,41.81 434.95,41.28 435.55,40.77 436.15,40.26 436.75,39.77 437.35,39.30 437.95,38.84 438.55,38.40 439.15,37.99 439.75,37.60 440.35,37.24 440.95,36.91 441.55,36.62 442.15,36.36 442.75,36.15 443.35,35.99 443.95,35.87 444.55,35.80 445.15,35.79 445.75,35.84 446.35,35.94 446.95,36.09 447.55,36.30 448.15,36.56 448.75,36.88 449.35,37.24 449.95,37.66 450.55,38.14 451.15,38.66 451.75,39.24 452.35,39.86 452.95,40.54 453.55,41.26 454.15,42.04 454.75,42.86 455.35,43.74 455.95,44.66 456.55,45.63 457.15,46.64 457.75,47.71 458.35,48.82 458.95,49.97 459.55,51.17 460.15,52.42 460.75,53.72 461.35,55.08 461.95,56.51 462.55,58.02 463.15,59.62 463.75,61.34 464.35,63.18 464.95,65.19 465.55,67.38 466.15,69.76 466.75,72.25 467.35,74.74 467.95,77.12 468.55,79.35 469.15,81.46 469.75,83.49 470.35,85.47 470.95,87.45 471.55,89.45 472.15,91.50 472.75,93.57 473.35,95.67 473.95,97.79 474.55,99.92 475.15,102.05 475.75,104.18 476.35,106.30 476.95,108.40 477.55,110.47 478.15,112.50 478.75,114.50 479.35,116.44 479.95,118.33 480.55,120.16 481.15,121.92 481.75,123.58 482.35,125.18 482.95,126.72 483.55,128.24 484.15,129.75 484.75,131.24 485.35,132.65 485.95,133.90 486.55,135.05 487.15,136.12 487.75,137.08 488.35,137.92 488.95,138.59 489.55,139.18 490.15,139.74 490.75,140.24 491.35,140.70 491.95,141.09 492.55,141.41 493.15,141.65 493.75,141.83 494.35,142.00 494.95,142.15 495.55,142.29 496.15,142.42 496.75,142.53 497.35,142.63 497.95,142.72 498.55,142.80 499.15,142.86 499.75,142.91 500.35,142.96 500.95,143.00 501.55,143.04 502.15,143.08 502.75,143.12 503.35,143.16 503.95,143.20 504.55,143.23 505.15,143.27 505.75,143.30 506.35,143.33 506.95,143.35 507.55,143.38 508.15,143.40 508.75,143.42 509.35,143.44 509.95,143.46 510.55,143.47 511.15,143.49 511.75,143.50 512.35,143.50 512.95,143.51 513.55,143.51" stroke="#d62728" stroke-width="1.1" fill="none" stroke-dasharray="3.9 2.2"/>
</g>
<path d="M367.05 143.88H369.55M367.05 125.27H369.55M367.05 106.65H369.55M367.05 88.04H369.55M367.05 69.43H369.55M367.05 50.81H369.55M367.05 32.20H369.55M367.05 13.59H369.55M369.55 143.88V146.28M393.55 143.88V146.28M417.55 143.88V146.28M441.55 143.88V146.28M465.55 143.88V146.28M489.55 143.88V146.28M513.55 143.88V146.28" stroke="#000" stroke-width="0.65" fill="none"/>
<path d="M369.55 2.42V143.88M513.55 2.42V143.88M369.55 143.88H513.55" stroke="#000" stroke-width="0.65" fill="none"/>
<path d="M369.25 2.5H513.85" stroke="#000" stroke-opacity="0.27" stroke-width="1" fill="none"/>
<rect x="459.20" y="7.67" width="53.30" height="15.85" fill="#fff" stroke="#000" stroke-width="0.75"/>
<g clip-path="url(#c03)">
<path d="M535.76 76.72h4.60M538.06 74.42v4.60M538.77 73.75h4.60M541.07 71.45v4.60M541.77 72.06h4.60M544.07 69.76v4.60M544.78 71.33h4.60M547.08 69.03v4.60M547.79 70.74h4.60M550.09 68.44v4.60M550.80 70.11h4.60M553.10 67.81v4.60M553.81 69.46h4.60M556.11 67.16v4.60M556.82 68.82h4.60M559.12 66.52v4.60M559.83 68.22h4.60M562.12 65.92v4.60M562.83 67.65h4.60M565.13 65.35v4.60M565.84 67.13h4.60M568.14 64.83v4.60M568.85 66.61h4.60M571.15 64.31v4.60M571.86 66.06h4.60M574.16 63.76v4.60M574.87 65.41h4.60M577.17 63.11v4.60M577.88 64.60h4.60M580.17 62.30v4.60M580.88 63.52h4.60M583.18 61.22v4.60M583.89 61.86h4.60M586.19 59.56v4.60M586.90 59.30h4.60M589.20 57.00v4.60M589.91 56.33h4.60M592.21 54.03v4.60M592.92 53.41h4.60M595.22 51.11v4.60M595.93 50.64h4.60M598.23 48.34v4.60M598.93 48.12h4.60M601.23 45.82v4.60M601.94 45.94h4.60M604.24 43.64v4.60M604.95 44.18h4.60M607.25 41.88v4.60M607.96 42.95h4.60M610.26 40.65v4.60M610.97 42.43h4.60M613.27 40.13v4.60M613.98 42.81h4.60M616.27 40.51v4.60M616.98 44.30h4.60M619.28 42.00v4.60M619.99 47.12h4.60M622.29 44.82v4.60M623.00 51.51h4.60M625.30 49.21v4.60M626.01 57.73h4.60M628.31 55.43v4.60M629.02 66.29h4.60M631.32 63.99v4.60M632.03 77.83h4.60M634.33 75.53v4.60M635.03 87.89h4.60M637.33 85.59v4.60M638.04 98.87h4.60M640.34 96.57v4.60M641.05 109.97h4.60M643.35 107.67v4.60M644.06 120.22h4.60M646.36 117.92v4.60M647.07 128.84h4.60M649.37 126.54v4.60M650.08 135.75h4.60M652.38 133.45v4.60M653.08 140.25h4.60M655.38 137.95v4.60M656.09 142.11h4.60M658.39 139.81v4.60M659.10 142.77h4.60M661.40 140.47v4.60M662.11 143.11h4.60M664.41 140.81v4.60M665.12 143.28h4.60M667.42 140.98v4.60M668.13 143.38h4.60M670.43 141.08v4.60M671.13 143.45h4.60M673.43 141.15v4.60M674.14 143.49h4.60M676.44 141.19v4.60M677.15 143.51h4.60M679.45 141.21v4.60" stroke="#1f77b4" stroke-width="1.0" fill="none"/>
<circle cx="538.06" cy="76.31" r="1.35" fill="#ff7f0e"/>
<circle cx="541.07" cy="73.27" r="1.35" fill="#ff7f0e"/>
<circle cx="544.07" cy="71.53" r="1.35" fill="#ff7f0e"/>
<circle cx="547.08" cy="70.78" r="1.35" fill="#ff7f0e"/>
<circle cx="550.09" cy="70.17" r="1.35" fill="#ff7f0e"/>
<circle cx="553.10" cy="69.52" r="1.35" fill="#ff7f0e"/>
<circle cx="556.11" cy="68.85" r="1.35" fill="#ff7f0e"/>
<circle cx="559.12" cy="68.19" r="1.35" fill="#ff7f0e"/>
<circle cx="562.12" cy="67.56" r="1.35" fill="#ff7f0e"/>
<circle cx="565.13" cy="66.97" r="1.35" fill="#ff7f0e"/>
<circle cx="568.14" cy="66.43" r="1.35" fill="#ff7f0e"/>
<circle cx="571.15" cy="65.90" r="1.35" fill="#ff7f0e"/>
<circle cx="574.16" cy="65.33" r="1.35" fill="#ff7f0e"/>
<circle cx="577.17" cy="64.65" r="1.35" fill="#ff7f0e"/>
<circle cx="580.17" cy="63.80" r="1.35" fill="#ff7f0e"/>
<circle cx="583.18" cy="62.68" r="1.35" fill="#ff7f0e"/>
<circle cx="586.19" cy="60.95" r="1.35" fill="#ff7f0e"/>
<circle cx="589.20" cy="58.26" r="1.35" fill="#ff7f0e"/>
<circle cx="592.21" cy="55.13" r="1.35" fill="#ff7f0e"/>
<circle cx="595.22" cy="52.04" r="1.35" fill="#ff7f0e"/>
<circle cx="598.23" cy="49.08" r="1.35" fill="#ff7f0e"/>
<circle cx="601.23" cy="46.37" r="1.35" fill="#ff7f0e"/>
<circle cx="604.24" cy="44.02" r="1.35" fill="#ff7f0e"/>
<circle cx="607.25" cy="42.11" r="1.35" fill="#ff7f0e"/>
<circle cx="610.26" cy="40.77" r="1.35" fill="#ff7f0e"/>
<circle cx="613.27" cy="40.20" r="1.35" fill="#ff7f0e"/>
<circle cx="616.27" cy="40.61" r="1.35" fill="#ff7f0e"/>
<circle cx="619.28" cy="42.23" r="1.35" fill="#ff7f0e"/>
<circle cx="622.29" cy="45.29" r="1.35" fill="#ff7f0e"/>
<circle cx="625.30" cy="50.01" r="1.35" fill="#ff7f0e"/>
<circle cx="628.31" cy="56.61" r="1.35" fill="#ff7f0e"/>
<circle cx="631.32" cy="65.56" r="1.35" fill="#ff7f0e"/>
<circle cx="634.33" cy="77.46" r="1.35" fill="#ff7f0e"/>
<circle cx="637.33" cy="87.70" r="1.35" fill="#ff7f0e"/>
<circle cx="640.34" cy="98.79" r="1.35" fill="#ff7f0e"/>
<circle cx="643.35" cy="109.94" r="1.35" fill="#ff7f0e"/>
<circle cx="646.36" cy="120.21" r="1.35" fill="#ff7f0e"/>
<circle cx="649.37" cy="128.84" r="1.35" fill="#ff7f0e"/>
<circle cx="652.38" cy="135.75" r="1.35" fill="#ff7f0e"/>
<circle cx="655.38" cy="140.25" r="1.35" fill="#ff7f0e"/>
<circle cx="658.39" cy="142.11" r="1.35" fill="#ff7f0e"/>
<circle cx="661.40" cy="142.77" r="1.35" fill="#ff7f0e"/>
<circle cx="664.41" cy="143.11" r="1.35" fill="#ff7f0e"/>
<circle cx="667.42" cy="143.28" r="1.35" fill="#ff7f0e"/>
<circle cx="670.43" cy="143.38" r="1.35" fill="#ff7f0e"/>
<circle cx="673.43" cy="143.45" r="1.35" fill="#ff7f0e"/>
<circle cx="676.44" cy="143.49" r="1.35" fill="#ff7f0e"/>
<circle cx="679.45" cy="143.51" r="1.35" fill="#ff7f0e"/>
<path d="M535.76 74.01l4.60 4.60M535.76 78.61l4.60 -4.60M538.77 70.97l4.60 4.60M538.77 75.57l4.60 -4.60M541.77 69.23l4.60 4.60M541.77 73.83l4.60 -4.60M544.78 68.48l4.60 4.60M544.78 73.08l4.60 -4.60M547.79 67.87l4.60 4.60M547.79 72.47l4.60 -4.60M550.80 67.22l4.60 4.60M550.80 71.82l4.60 -4.60M553.81 66.55l4.60 4.60M553.81 71.15l4.60 -4.60M556.82 65.89l4.60 4.60M556.82 70.49l4.60 -4.60M559.83 65.26l4.60 4.60M559.83 69.86l4.60 -4.60M562.83 64.67l4.60 4.60M562.83 69.27l4.60 -4.60M565.84 64.13l4.60 4.60M565.84 68.73l4.60 -4.60M568.85 63.60l4.60 4.60M568.85 68.20l4.60 -4.60M571.86 63.03l4.60 4.60M571.86 67.63l4.60 -4.60M574.87 62.35l4.60 4.60M574.87 66.95l4.60 -4.60M577.88 61.50l4.60 4.60M577.88 66.10l4.60 -4.60M580.88 60.38l4.60 4.60M580.88 64.98l4.60 -4.60M583.89 58.65l4.60 4.60M583.89 63.25l4.60 -4.60M586.90 55.96l4.60 4.60M586.90 60.56l4.60 -4.60M589.91 52.83l4.60 4.60M589.91 57.43l4.60 -4.60M592.92 49.74l4.60 4.60M592.92 54.34l4.60 -4.60M595.93 46.78l4.60 4.60M595.93 51.38l4.60 -4.60M598.93 44.07l4.60 4.60M598.93 48.67l4.60 -4.60M601.94 41.72l4.60 4.60M601.94 46.32l4.60 -4.60M604.95 39.81l4.60 4.60M604.95 44.41l4.60 -4.60M607.96 38.47l4.60 4.60M607.96 43.07l4.60 -4.60M610.97 37.90l4.60 4.60M610.97 42.50l4.60 -4.60M613.98 38.31l4.60 4.60M613.98 42.91l4.60 -4.60M616.98 39.93l4.60 4.60M616.98 44.53l4.60 -4.60M619.99 42.99l4.60 4.60M619.99 47.59l4.60 -4.60M623.00 47.71l4.60 4.60M623.00 52.31l4.60 -4.60M626.01 54.31l4.60 4.60M626.01 58.91l4.60 -4.60M629.02 63.26l4.60 4.60M629.02 67.86l4.60 -4.60M632.03 75.16l4.60 4.60M632.03 79.76l4.60 -4.60M635.03 85.40l4.60 4.60M635.03 90.00l4.60 -4.60M638.04 96.49l4.60 4.60M638.04 101.09l4.60 -4.60M641.05 107.64l4.60 4.60M641.05 112.24l4.60 -4.60M644.06 117.91l4.60 4.60M644.06 122.51l4.60 -4.60M647.07 126.54l4.60 4.60M647.07 131.14l4.60 -4.60M650.08 133.45l4.60 4.60M650.08 138.05l4.60 -4.60M653.08 137.95l4.60 4.60M653.08 142.55l4.60 -4.60M656.09 139.81l4.60 4.60M656.09 144.41l4.60 -4.60M659.10 140.47l4.60 4.60M659.10 145.07l4.60 -4.60M662.11 140.81l4.60 4.60M662.11 145.41l4.60 -4.60M665.12 140.98l4.60 4.60M665.12 145.58l4.60 -4.60M668.13 141.08l4.60 4.60M668.13 145.68l4.60 -4.60M671.13 141.15l4.60 4.60M671.13 145.75l4.60 -4.60M674.14 141.19l4.60 4.60M674.14 145.79l4.60 -4.60M677.15 141.21l4.60 4.60M677.15 145.81l4.60 -4.60" stroke="#2ca02c" stroke-width="1.0" fill="none"/>
<polyline points="538.06,81.36 538.66,80.86 539.26,80.40 539.86,79.97 540.46,79.57 541.07,79.20 541.67,78.85 542.27,78.53 542.87,78.23 543.47,77.95 544.07,77.69 544.68,77.44 545.28,77.20 545.88,76.98 546.48,76.77 547.08,76.56 547.68,76.36 548.29,76.17 548.89,75.97 549.49,75.78 550.09,75.58 550.69,75.38 551.29,75.17 551.90,74.96 552.50,74.75 553.10,74.53 553.70,74.32 554.30,74.09 554.90,73.87 555.51,73.64 556.11,73.41 556.71,73.18 557.31,72.94 557.91,72.71 558.51,72.47 559.12,72.23 559.72,71.98 560.32,71.74 560.92,71.49 561.52,71.24 562.12,71.00 562.73,70.75 563.33,70.50 563.93,70.24 564.53,69.99 565.13,69.74 565.74,69.48 566.34,69.23 566.94,68.98 567.54,68.72 568.14,68.47 568.74,68.22 569.35,67.96 569.95,67.71 570.55,67.46 571.15,67.21 571.75,66.96 572.35,66.71 572.95,66.46 573.56,66.21 574.16,65.96 574.76,65.71 575.36,65.46 575.96,65.21 576.56,64.95 577.17,64.69 577.77,64.42 578.37,64.15 578.97,63.87 579.57,63.59 580.17,63.30 580.78,63.00 581.38,62.69 581.98,62.36 582.58,62.03 583.18,61.69 583.78,61.34 584.39,60.97 584.99,60.59 585.59,60.20 586.19,59.79 586.79,59.38 587.39,58.96 588.00,58.52 588.60,58.08 589.20,57.63 589.80,57.18 590.40,56.71 591.00,56.24 591.61,55.77 592.21,55.29 592.81,54.80 593.41,54.31 594.01,53.82 594.62,53.33 595.22,52.83 595.82,52.34 596.42,51.84 597.02,51.34 597.62,50.84 598.23,50.35 598.83,49.86 599.43,49.36 600.03,48.88 600.63,48.40 601.23,47.92 601.84,47.46 602.44,47.01 603.04,46.57 603.64,46.15 604.24,45.74 604.84,45.35 605.45,44.98 606.05,44.64 606.65,44.32 607.25,44.02 607.85,43.75 608.45,43.51 609.06,43.31 609.66,43.13 610.26,43.00 610.86,42.89 611.46,42.83 612.06,42.81 612.66,42.83 613.27,42.89 613.87,43.00 614.47,43.15 615.07,43.34 615.67,43.57 616.27,43.83 616.88,44.12 617.48,44.45 618.08,44.80 618.68,45.17 619.28,45.57 619.88,45.99 620.49,46.44 621.09,46.92 621.69,47.43 622.29,47.98 622.89,48.58 623.50,49.23 624.10,49.93 624.70,50.70 625.30,51.53 625.90,52.43 626.50,53.41 627.11,54.47 627.71,55.63 628.31,56.88 628.91,58.24 629.51,59.71 630.11,61.30 630.72,62.98 631.32,64.76 631.92,66.59 632.52,68.47 633.12,70.38 633.72,72.29 634.33,74.20 634.93,76.06 635.53,77.88 636.13,79.65 636.73,81.41 637.33,83.17 637.94,84.95 638.54,86.77 639.14,88.64 639.74,90.58 640.34,92.58 640.94,94.62 641.55,96.69 642.15,98.77 642.75,100.86 643.35,102.95 643.95,105.02 644.55,107.08 645.15,109.11 645.76,111.11 646.36,113.08 646.96,115.00 647.56,116.89 648.16,118.73 648.77,120.52 649.37,122.22 649.97,123.85 650.57,125.40 651.17,126.90 651.77,128.38 652.38,129.88 652.98,131.42 653.58,132.94 654.18,134.35 654.78,135.56 655.38,136.69 655.99,137.77 656.59,138.73 657.19,139.54 657.79,140.16 658.39,140.63 658.99,141.06 659.60,141.45 660.20,141.78 660.80,142.06 661.40,142.29 662.00,142.47 662.60,142.61 663.21,142.74 663.81,142.86 664.41,142.97 665.01,143.06 665.61,143.14 666.21,143.20 666.82,143.25 667.42,143.28 668.02,143.31 668.62,143.33 669.22,143.35 669.82,143.36 670.43,143.38 671.03,143.40 671.63,143.41 672.23,143.43 672.83,143.44 673.43,143.45 674.04,143.46 674.64,143.47 675.24,143.48 675.84,143.49 676.44,143.49 677.04,143.50 677.64,143.50 678.25,143.51 678.85,143.51 679.45,143.51" stroke="#d62728" stroke-width="1.1" fill="none" stroke-dasharray="3.9 2.2"/>
</g>
<path d="M532.55 143.88H535.05M532.55 125.27H535.05M532.55 106.65H535.05M532.55 88.04H535.05M532.55 69.43H535.05M532.55 50.81H535.05M532.55 32.20H535.05M532.55 13.59H535.05M535.05 143.88V146.28M559.12 143.88V146.28M583.18 143.88V146.28M607.25 143.88V146.28M631.32 143.88V146.28M655.38 143.88V146.28M679.45 143.88V146.28" stroke="#000" stroke-width="0.65" fill="none"/>
<path d="M535.05 2.42V143.88M679.45 2.42V143.88M535.05 143.88H679.45" stroke="#000" stroke-width="0.65" fill="none"/>
<path d="M534.75 2.5H679.75" stroke="#000" stroke-opacity="0.27" stroke-width="1" fill="none"/>
<rect x="625.00" y="7.67" width="52.70" height="15.85" fill="#fff" stroke="#000" stroke-width="0.75"/>
<g clip-path="url(#c10)">
<path d="M38.17 257.82h4.60M40.47 255.52v4.60M41.18 254.46h4.60M43.48 252.16v4.60M44.19 251.24h4.60M46.49 248.94v4.60M47.20 248.13h4.60M49.50 245.83v4.60M50.20 244.87h4.60M52.50 242.57v4.60M53.21 241.31h4.60M55.51 239.01v4.60M56.22 237.41h4.60M58.52 235.11v4.60M59.23 233.15h4.60M61.53 230.85v4.60M62.24 228.50h4.60M64.54 226.20v4.60M65.25 223.45h4.60M67.55 221.15v4.60M68.26 218.02h4.60M70.56 215.72v4.60M71.27 212.26h4.60M73.56 209.96v4.60M74.27 206.19h4.60M76.57 203.89v4.60M77.28 199.90h4.60M79.58 197.60v4.60M80.29 193.61h4.60M82.59 191.31v4.60M83.30 187.60h4.60M85.60 185.30v4.60M86.31 182.16h4.60M88.61 179.86v4.60M89.32 177.56h4.60M91.62 175.26v4.60M92.33 174.04h4.60M94.63 171.74v4.60M95.33 171.78h4.60M97.63 169.48v4.60M98.34 170.89h4.60M100.64 168.59v4.60M101.35 171.49h4.60M103.65 169.19v4.60M104.36 173.72h4.60M106.66 171.42v4.60M107.37 177.71h4.60M109.67 175.41v4.60M110.38 183.51h4.60M112.68 181.21v4.60M113.39 190.88h4.60M115.69 188.58v4.60M116.40 199.49h4.60M118.70 197.19v4.60M119.41 209.05h4.60M121.71 206.75v4.60M122.41 219.49h4.60M124.71 217.19v4.60M125.42 230.66h4.60M127.72 228.36v4.60M128.43 242.02h4.60M130.73 239.72v4.60M131.44 252.90h4.60M133.74 250.60v4.60M134.45 262.74h4.60M136.75 260.44v4.60M137.46 271.12h4.60M139.76 268.82v4.60M140.47 278.09h4.60M142.77 275.79v4.60M143.47 283.75h4.60M145.78 281.45v4.60M146.48 288.26h4.60M148.78 285.96v4.60M149.49 291.83h4.60M151.79 289.53v4.60M152.50 294.41h4.60M154.80 292.11v4.60M155.51 296.03h4.60M157.81 293.73v4.60M158.52 297.10h4.60M160.82 294.80v4.60M161.53 297.90h4.60M163.83 295.60v4.60M164.54 298.29h4.60M166.84 295.99v4.60M167.54 298.54h4.60M169.84 296.24v4.60M170.55 298.74h4.60M172.85 296.44v4.60M173.56 298.89h4.60M175.86 296.59v4.60M176.57 298.98h4.60M178.87 296.68v4.60M179.58 299.01h4.60M181.88 296.71v4.60" stroke="#1f77b4" stroke-width="1.0" fill="none"/>
<circle cx="40.47" cy="258.85" r="1.35" fill="#ff7f0e"/>
<circle cx="43.48" cy="255.57" r="1.35" fill="#ff7f0e"/>
<circle cx="46.49" cy="252.42" r="1.35" fill="#ff7f0e"/>
<circle cx="49.50" cy="249.38" r="1.35" fill="#ff7f0e"/>
<circle cx="52.50" cy="246.20" r="1.35" fill="#ff7f0e"/>
<circle cx="55.51" cy="242.72" r="1.35" fill="#ff7f0e"/>
<circle cx="58.52" cy="238.91" r="1.35" fill="#ff7f0e"/>
<circle cx="61.53" cy="234.73" r="1.35" fill="#ff7f0e"/>
<circle cx="64.54" cy="230.18" r="1.35" fill="#ff7f0e"/>
<circle cx="67.55" cy="225.22" r="1.35" fill="#ff7f0e"/>
<circle cx="70.56" cy="219.89" r="1.35" fill="#ff7f0e"/>
<circle cx="73.56" cy="214.22" r="1.35" fill="#ff7f0e"/>
<circle cx="76.57" cy="208.23" r="1.35" fill="#ff7f0e"/>
<circle cx="79.58" cy="202.00" r="1.35" fill="#ff7f0e"/>
<circle cx="82.59" cy="195.76" r="1.35" fill="#ff7f0e"/>
<circle cx="85.60" cy="189.78" r="1.35" fill="#ff7f0e"/>
<circle cx="88.61" cy="184.35" r="1.35" fill="#ff7f0e"/>
<circle cx="91.62" cy="179.73" r="1.35" fill="#ff7f0e"/>
<circle cx="94.63" cy="176.20" r="1.35" fill="#ff7f0e"/>
<circle cx="97.63" cy="173.91" r="1.35" fill="#ff7f0e"/>
<circle cx="100.64" cy="173.01" r="1.35" fill="#ff7f0e"/>
<circle cx="103.65" cy="173.62" r="1.35" fill="#ff7f0e"/>
<circle cx="106.66" cy="175.87" r="1.35" fill="#ff7f0e"/>
<circle cx="109.67" cy="179.88" r="1.35" fill="#ff7f0e"/>
<circle cx="112.68" cy="185.70" r="1.35" fill="#ff7f0e"/>
<circle cx="115.69" cy="193.05" r="1.35" fill="#ff7f0e"/>
<circle cx="118.70" cy="201.60" r="1.35" fill="#ff7f0e"/>
<circle cx="121.71" cy="211.05" r="1.35" fill="#ff7f0e"/>
<circle cx="124.71" cy="221.33" r="1.35" fill="#ff7f0e"/>
<circle cx="127.72" cy="232.30" r="1.35" fill="#ff7f0e"/>
<circle cx="130.73" cy="243.41" r="1.35" fill="#ff7f0e"/>
<circle cx="133.74" cy="254.04" r="1.35" fill="#ff7f0e"/>
<circle cx="136.75" cy="263.65" r="1.35" fill="#ff7f0e"/>
<circle cx="139.76" cy="271.83" r="1.35" fill="#ff7f0e"/>
<circle cx="142.77" cy="278.62" r="1.35" fill="#ff7f0e"/>
<circle cx="145.78" cy="284.15" r="1.35" fill="#ff7f0e"/>
<circle cx="148.78" cy="288.54" r="1.35" fill="#ff7f0e"/>
<circle cx="151.79" cy="292.02" r="1.35" fill="#ff7f0e"/>
<circle cx="154.80" cy="294.53" r="1.35" fill="#ff7f0e"/>
<circle cx="157.81" cy="296.12" r="1.35" fill="#ff7f0e"/>
<circle cx="160.82" cy="297.16" r="1.35" fill="#ff7f0e"/>
<circle cx="163.83" cy="297.94" r="1.35" fill="#ff7f0e"/>
<circle cx="166.84" cy="298.32" r="1.35" fill="#ff7f0e"/>
<circle cx="169.84" cy="298.56" r="1.35" fill="#ff7f0e"/>
<circle cx="172.85" cy="298.76" r="1.35" fill="#ff7f0e"/>
<circle cx="175.86" cy="298.90" r="1.35" fill="#ff7f0e"/>
<circle cx="178.87" cy="298.99" r="1.35" fill="#ff7f0e"/>
<circle cx="181.88" cy="299.03" r="1.35" fill="#ff7f0e"/>
<path d="M38.17 255.51l4.60 4.60M38.17 260.11l4.60 -4.60M41.18 252.14l4.60 4.60M41.18 256.74l4.60 -4.60M44.19 248.91l4.60 4.60M44.19 253.51l4.60 -4.60M47.20 245.80l4.60 4.60M47.20 250.40l4.60 -4.60M50.20 242.53l4.60 4.60M50.20 247.13l4.60 -4.60M53.21 238.96l4.60 4.60M53.21 243.56l4.60 -4.60M56.22 235.05l4.60 4.60M56.22 239.65l4.60 -4.60M59.23 230.77l4.60 4.60M59.23 235.37l4.60 -4.60M62.24 226.10l4.60 4.60M62.24 230.70l4.60 -4.60M65.25 221.02l4.60 4.60M65.25 225.62l4.60 -4.60M68.26 215.55l4.60 4.60M68.26 220.15l4.60 -4.60M71.27 209.73l4.60 4.60M71.27 214.33l4.60 -4.60M74.27 203.59l4.60 4.60M74.27 208.19l4.60 -4.60M77.28 197.20l4.60 4.60M77.28 201.80l4.60 -4.60M80.29 190.80l4.60 4.60M80.29 195.40l4.60 -4.60M83.30 184.67l4.60 4.60M83.30 189.27l4.60 -4.60M86.31 179.10l4.60 4.60M86.31 183.70l4.60 -4.60M89.32 174.36l4.60 4.60M89.32 178.96l4.60 -4.60M92.33 170.73l4.60 4.60M92.33 175.33l4.60 -4.60M95.33 168.39l4.60 4.60M95.33 172.99l4.60 -4.60M98.34 167.47l4.60 4.60M98.34 172.07l4.60 -4.60M101.35 168.10l4.60 4.60M101.35 172.70l4.60 -4.60M104.36 170.40l4.60 4.60M104.36 175.00l4.60 -4.60M107.37 174.52l4.60 4.60M107.37 179.12l4.60 -4.60M110.38 180.48l4.60 4.60M110.38 185.08l4.60 -4.60M113.39 188.02l4.60 4.60M113.39 192.62l4.60 -4.60M116.40 196.79l4.60 4.60M116.40 201.39l4.60 -4.60M119.41 206.49l4.60 4.60M119.41 211.09l4.60 -4.60M122.41 217.03l4.60 4.60M122.41 221.63l4.60 -4.60M125.42 228.28l4.60 4.60M125.42 232.88l4.60 -4.60M128.43 239.67l4.60 4.60M128.43 244.27l4.60 -4.60M131.44 250.58l4.60 4.60M131.44 255.18l4.60 -4.60M134.45 260.43l4.60 4.60M134.45 265.03l4.60 -4.60M137.46 268.82l4.60 4.60M137.46 273.42l4.60 -4.60M140.47 275.78l4.60 4.60M140.47 280.38l4.60 -4.60M143.47 281.45l4.60 4.60M143.47 286.05l4.60 -4.60M146.48 285.96l4.60 4.60M146.48 290.56l4.60 -4.60M149.49 289.53l4.60 4.60M149.49 294.13l4.60 -4.60M152.50 292.11l4.60 4.60M152.50 296.71l4.60 -4.60M155.51 293.73l4.60 4.60M155.51 298.33l4.60 -4.60M158.52 294.80l4.60 4.60M158.52 299.40l4.60 -4.60M161.53 295.60l4.60 4.60M161.53 300.20l4.60 -4.60M164.54 295.99l4.60 4.60M164.54 300.59l4.60 -4.60M167.54 296.24l4.60 4.60M167.54 300.84l4.60 -4.60M170.55 296.44l4.60 4.60M170.55 301.04l4.60 -4.60M173.56 296.59l4.60 4.60M173.56 301.19l4.60 -4.60M176.57 296.68l4.60 4.60M176.57 301.28l4.60 -4.60M179.58 296.71l4.60 4.60M179.58 301.31l4.60 -4.60" stroke="#2ca02c" stroke-width="1.0" fill="none"/>
<polyline points="40.47,259.56 41.07,258.86 41.67,258.13 42.27,257.39 42.88,256.64 43.48,255.89 44.08,255.15 44.68,254.43 45.28,253.73 45.88,253.04 46.49,252.37 47.09,251.71 47.69,251.06 48.29,250.40 48.89,249.75 49.50,249.09 50.10,248.42 50.70,247.73 51.30,247.03 51.90,246.31 52.50,245.56 53.11,244.78 53.71,243.96 54.31,243.11 54.91,242.22 55.51,241.28 56.11,240.29 56.72,239.25 57.32,238.15 57.92,236.98 58.52,235.76 59.12,234.49 59.72,233.18 60.33,231.84 60.93,230.48 61.53,229.12 62.13,227.76 62.73,226.41 63.34,225.09 63.94,223.80 64.54,222.53 65.14,221.28 65.74,220.04 66.34,218.81 66.95,217.59 67.55,216.37 68.15,215.14 68.75,213.90 69.35,212.64 69.95,211.37 70.56,210.07 71.16,208.74 71.76,207.38 72.36,206.01 72.96,204.61 73.56,203.21 74.17,201.80 74.77,200.39 75.37,198.99 75.97,197.59 76.57,196.21 77.18,194.86 77.78,193.52 78.38,192.22 78.98,190.94 79.58,189.70 80.18,188.48 80.79,187.29 81.39,186.13 81.99,185.01 82.59,183.92 83.19,182.86 83.79,181.83 84.40,180.84 85.00,179.89 85.60,178.97 86.20,178.09 86.80,177.25 87.41,176.44 88.01,175.68 88.61,174.95 89.21,174.27 89.81,173.63 90.41,173.03 91.02,172.47 91.62,171.96 92.22,171.49 92.82,171.07 93.42,170.69 94.02,170.37 94.63,170.09 95.23,169.85 95.83,169.67 96.43,169.54 97.03,169.46 97.63,169.43 98.24,169.45 98.84,169.53 99.44,169.66 100.04,169.84 100.64,170.09 101.25,170.39 101.85,170.75 102.45,171.17 103.05,171.65 103.65,172.19 104.25,172.80 104.86,173.47 105.46,174.21 106.06,175.01 106.66,175.88 107.26,176.82 107.86,177.83 108.47,178.91 109.07,180.06 109.67,181.28 110.27,182.58 110.87,183.96 111.48,185.41 112.08,186.94 112.68,188.53 113.28,190.20 113.88,191.91 114.48,193.68 115.09,195.47 115.69,197.30 116.29,199.14 116.89,200.99 117.49,202.84 118.09,204.68 118.70,206.52 119.30,208.36 119.90,210.21 120.50,212.05 121.10,213.89 121.71,215.74 122.31,217.59 122.91,219.45 123.51,221.32 124.11,223.20 124.71,225.08 125.32,226.98 125.92,228.89 126.52,230.81 127.12,232.75 127.72,234.71 128.32,236.67 128.93,238.65 129.53,240.63 130.13,242.62 130.73,244.61 131.33,246.59 131.93,248.57 132.54,250.55 133.14,252.51 133.74,254.46 134.34,256.40 134.94,258.31 135.55,260.19 136.15,262.05 136.75,263.86 137.35,265.64 137.95,267.36 138.55,269.04 139.16,270.65 139.76,272.21 140.36,273.70 140.96,275.13 141.56,276.51 142.16,277.82 142.77,279.08 143.37,280.29 143.97,281.45 144.57,282.56 145.17,283.61 145.78,284.62 146.38,285.58 146.98,286.50 147.58,287.37 148.18,288.19 148.78,288.98 149.39,289.72 149.99,290.43 150.59,291.11 151.19,291.75 151.79,292.36 152.39,292.93 153.00,293.45 153.60,293.91 154.20,294.33 154.80,294.72 155.40,295.07 156.00,295.39 156.61,295.68 157.21,295.95 157.81,296.20 158.41,296.43 159.01,296.64 159.62,296.83 160.22,297.01 160.82,297.19 161.42,297.36 162.02,297.52 162.62,297.67 163.23,297.80 163.83,297.92 164.43,298.03 165.03,298.12 165.63,298.19 166.23,298.24 166.84,298.29 167.44,298.34 168.04,298.39 168.64,298.44 169.24,298.49 169.84,298.54 170.45,298.58 171.05,298.62 171.65,298.66 172.25,298.70 172.85,298.74 173.46,298.77 174.06,298.80 174.66,298.83 175.26,298.86 175.86,298.89 176.46,298.91 177.07,298.93 177.67,298.95 178.27,298.97 178.87,298.98 179.47,298.99 180.07,299.00 180.68,299.01 181.28,299.01 181.88,299.01" stroke="#d62728" stroke-width="1.1" fill="none" stroke-dasharray="3.9 2.2"/>
</g>
<path d="M34.96 299.46H37.46M34.96 280.88H37.46M34.96 262.30H37.46M34.96 243.72H37.46M34.96 225.14H37.46M34.96 206.56H37.46M34.96 187.98H37.46M34.96 169.40H37.46M37.46 299.46V301.86M61.53 299.46V301.86M85.60 299.46V301.86M109.67 299.46V301.86M133.74 299.46V301.86M157.81 299.46V301.86M181.88 299.46V301.86" stroke="#000" stroke-width="0.65" fill="none"/>
<path d="M37.46 158.25V299.46M181.88 158.25V299.46M37.46 299.46H181.88" stroke="#000" stroke-width="0.65" fill="none"/>
<path d="M37.46 158.25H181.88" stroke="#000" stroke-width="0.65" fill="none"/>
<rect x="132.46" y="163.50" width="42.60" height="15.85" fill="#fff" stroke="#000" stroke-width="0.75"/>
<g clip-path="url(#c11)">
<path d="M204.25 248.84h4.60M206.55 246.54v4.60M207.25 246.01h4.60M209.55 243.71v4.60M210.25 243.19h4.60M212.55 240.89v4.60M213.25 240.29h4.60M215.55 237.99v4.60M216.25 237.24h4.60M218.55 234.94v4.60M219.25 233.96h4.60M221.55 231.66v4.60M222.25 230.38h4.60M224.55 228.08v4.60M225.25 226.47h4.60M227.55 224.17v4.60M228.25 222.24h4.60M230.55 219.94v4.60M231.25 217.72h4.60M233.55 215.42v4.60M234.25 212.96h4.60M236.55 210.66v4.60M237.25 207.98h4.60M239.55 205.68v4.60M240.25 202.81h4.60M242.55 200.51v4.60M243.25 197.54h4.60M245.55 195.24v4.60M246.25 192.36h4.60M248.55 190.06v4.60M249.25 187.45h4.60M251.55 185.15v4.60M252.25 183.03h4.60M254.55 180.73v4.60M255.25 179.28h4.60M257.55 176.98v4.60M258.25 176.39h4.60M260.55 174.09v4.60M261.25 174.57h4.60M263.55 172.27v4.60M264.25 174.00h4.60M266.55 171.70v4.60M267.25 174.80h4.60M269.55 172.50v4.60M270.25 176.97h4.60M272.55 174.67v4.60M273.25 180.50h4.60M275.55 178.20v4.60M276.25 185.38h4.60M278.55 183.08v4.60M279.25 191.60h4.60M281.55 189.30v4.60M282.25 199.18h4.60M284.55 196.88v4.60M285.25 208.30h4.60M287.55 206.00v4.60M288.25 219.07h4.60M290.55 216.77v4.60M291.25 230.98h4.60M293.55 228.68v4.60M294.25 243.38h4.60M296.55 241.08v4.60M297.25 255.16h4.60M299.55 252.86v4.60M300.25 265.44h4.60M302.55 263.14v4.60M303.25 274.42h4.60M305.55 272.12v4.60M306.25 282.06h4.60M308.55 279.76v4.60M309.25 288.28h4.60M311.55 285.98v4.60M312.25 292.99h4.60M314.55 290.69v4.60M315.25 296.24h4.60M317.55 293.94v4.60M318.25 297.91h4.60M320.55 295.61v4.60M321.25 298.71h4.60M323.55 296.41v4.60M324.25 298.91h4.60M326.55 296.61v4.60M327.25 298.98h4.60M329.55 296.68v4.60M330.25 299.04h4.60M332.55 296.74v4.60M333.25 299.09h4.60M335.55 296.79v4.60M336.25 299.12h4.60M338.55 296.82v4.60M339.25 299.15h4.60M341.55 296.85v4.60M342.25 299.16h4.60M344.55 296.86v4.60M345.25 299.16h4.60M347.55 296.86v4.60" stroke="#1f77b4" stroke-width="1.0" fill="none"/>
<circle cx="206.55" cy="250.07" r="1.35" fill="#ff7f0e"/>
<circle cx="209.55" cy="247.31" r="1.35" fill="#ff7f0e"/>
<circle cx="212.55" cy="244.55" r="1.35" fill="#ff7f0e"/>
<circle cx="215.55" cy="241.72" r="1.35" fill="#ff7f0e"/>
<circle cx="218.55" cy="238.73" r="1.35" fill="#ff7f0e"/>
<circle cx="221.55" cy="235.52" r="1.35" fill="#ff7f0e"/>
<circle cx="224.55" cy="232.01" r="1.35" fill="#ff7f0e"/>
<circle cx="227.55" cy="228.17" r="1.35" fill="#ff7f0e"/>
<circle cx="230.55" cy="224.02" r="1.35" fill="#ff7f0e"/>
<circle cx="233.55" cy="219.58" r="1.35" fill="#ff7f0e"/>
<circle cx="236.55" cy="214.88" r="1.35" fill="#ff7f0e"/>
<circle cx="239.55" cy="209.97" r="1.35" fill="#ff7f0e"/>
<circle cx="242.55" cy="204.86" r="1.35" fill="#ff7f0e"/>
<circle cx="245.55" cy="199.63" r="1.35" fill="#ff7f0e"/>
<circle cx="248.55" cy="194.46" r="1.35" fill="#ff7f0e"/>
<circle cx="251.55" cy="189.57" r="1.35" fill="#ff7f0e"/>
<circle cx="254.55" cy="185.14" r="1.35" fill="#ff7f0e"/>
<circle cx="257.55" cy="181.37" r="1.35" fill="#ff7f0e"/>
<circle cx="260.55" cy="178.47" r="1.35" fill="#ff7f0e"/>
<circle cx="263.55" cy="176.63" r="1.35" fill="#ff7f0e"/>
<circle cx="266.55" cy="176.05" r="1.35" fill="#ff7f0e"/>
<circle cx="269.55" cy="176.86" r="1.35" fill="#ff7f0e"/>
<circle cx="272.55" cy="179.05" r="1.35" fill="#ff7f0e"/>
<circle cx="275.55" cy="182.60" r="1.35" fill="#ff7f0e"/>
<circle cx="278.55" cy="187.49" r="1.35" fill="#ff7f0e"/>
<circle cx="281.55" cy="193.71" r="1.35" fill="#ff7f0e"/>
<circle cx="284.55" cy="201.25" r="1.35" fill="#ff7f0e"/>
<circle cx="287.55" cy="210.29" r="1.35" fill="#ff7f0e"/>
<circle cx="290.55" cy="220.90" r="1.35" fill="#ff7f0e"/>
<circle cx="293.55" cy="232.60" r="1.35" fill="#ff7f0e"/>
<circle cx="296.55" cy="244.74" r="1.35" fill="#ff7f0e"/>
<circle cx="299.55" cy="256.25" r="1.35" fill="#ff7f0e"/>
<circle cx="302.55" cy="266.28" r="1.35" fill="#ff7f0e"/>
<circle cx="305.55" cy="275.04" r="1.35" fill="#ff7f0e"/>
<circle cx="308.55" cy="282.50" r="1.35" fill="#ff7f0e"/>
<circle cx="311.55" cy="288.56" r="1.35" fill="#ff7f0e"/>
<circle cx="314.55" cy="293.15" r="1.35" fill="#ff7f0e"/>
<circle cx="317.55" cy="296.32" r="1.35" fill="#ff7f0e"/>
<circle cx="320.55" cy="297.95" r="1.35" fill="#ff7f0e"/>
<circle cx="323.55" cy="298.72" r="1.35" fill="#ff7f0e"/>
<circle cx="326.55" cy="298.92" r="1.35" fill="#ff7f0e"/>
<circle cx="329.55" cy="298.99" r="1.35" fill="#ff7f0e"/>
<circle cx="332.55" cy="299.05" r="1.35" fill="#ff7f0e"/>
<circle cx="335.55" cy="299.10" r="1.35" fill="#ff7f0e"/>
<circle cx="338.55" cy="299.13" r="1.35" fill="#ff7f0e"/>
<circle cx="341.55" cy="299.15" r="1.35" fill="#ff7f0e"/>
<circle cx="344.55" cy="299.17" r="1.35" fill="#ff7f0e"/>
<circle cx="347.55" cy="299.17" r="1.35" fill="#ff7f0e"/>
<path d="M204.25 246.51l4.60 4.60M204.25 251.11l4.60 -4.60M207.25 243.67l4.60 4.60M207.25 248.27l4.60 -4.60M210.25 240.84l4.60 4.60M210.25 245.44l4.60 -4.60M213.25 237.94l4.60 4.60M213.25 242.54l4.60 -4.60M216.25 234.87l4.60 4.60M216.25 239.47l4.60 -4.60M219.25 231.58l4.60 4.60M219.25 236.18l4.60 -4.60M222.25 227.99l4.60 4.60M222.25 232.59l4.60 -4.60M225.25 224.04l4.60 4.60M225.25 228.64l4.60 -4.60M228.25 219.78l4.60 4.60M228.25 224.38l4.60 -4.60M231.25 215.23l4.60 4.60M231.25 219.83l4.60 -4.60M234.25 210.42l4.60 4.60M234.25 215.02l4.60 -4.60M237.25 205.37l4.60 4.60M237.25 209.97l4.60 -4.60M240.25 200.13l4.60 4.60M240.25 204.73l4.60 -4.60M243.25 194.77l4.60 4.60M243.25 199.37l4.60 -4.60M246.25 189.47l4.60 4.60M246.25 194.07l4.60 -4.60M249.25 184.45l4.60 4.60M249.25 189.05l4.60 -4.60M252.25 179.90l4.60 4.60M252.25 184.50l4.60 -4.60M255.25 176.04l4.60 4.60M255.25 180.64l4.60 -4.60M258.25 173.06l4.60 4.60M258.25 177.66l4.60 -4.60M261.25 171.18l4.60 4.60M261.25 175.78l4.60 -4.60M264.25 170.59l4.60 4.60M264.25 175.19l4.60 -4.60M267.25 171.41l4.60 4.60M267.25 176.01l4.60 -4.60M270.25 173.66l4.60 4.60M270.25 178.26l4.60 -4.60M273.25 177.30l4.60 4.60M273.25 181.90l4.60 -4.60M276.25 182.32l4.60 4.60M276.25 186.92l4.60 -4.60M279.25 188.70l4.60 4.60M279.25 193.30l4.60 -4.60M282.25 196.43l4.60 4.60M282.25 201.03l4.60 -4.60M285.25 205.70l4.60 4.60M285.25 210.30l4.60 -4.60M288.25 216.59l4.60 4.60M288.25 221.19l4.60 -4.60M291.25 228.58l4.60 4.60M291.25 233.18l4.60 -4.60M294.25 241.04l4.60 4.60M294.25 245.64l4.60 -4.60M297.25 252.84l4.60 4.60M297.25 257.44l4.60 -4.60M300.25 263.13l4.60 4.60M300.25 267.73l4.60 -4.60M303.25 272.12l4.60 4.60M303.25 276.72l4.60 -4.60M306.25 279.76l4.60 4.60M306.25 284.36l4.60 -4.60M309.25 285.98l4.60 4.60M309.25 290.58l4.60 -4.60M312.25 290.69l4.60 4.60M312.25 295.29l4.60 -4.60M315.25 293.94l4.60 4.60M315.25 298.54l4.60 -4.60M318.25 295.61l4.60 4.60M318.25 300.21l4.60 -4.60M321.25 296.41l4.60 4.60M321.25 301.01l4.60 -4.60M324.25 296.61l4.60 4.60M324.25 301.21l4.60 -4.60M327.25 296.68l4.60 4.60M327.25 301.28l4.60 -4.60M330.25 296.74l4.60 4.60M330.25 301.34l4.60 -4.60M333.25 296.79l4.60 4.60M333.25 301.39l4.60 -4.60M336.25 296.82l4.60 4.60M336.25 301.42l4.60 -4.60M339.25 296.85l4.60 4.60M339.25 301.45l4.60 -4.60M342.25 296.86l4.60 4.60M342.25 301.46l4.60 -4.60M345.25 296.86l4.60 4.60M345.25 301.46l4.60 -4.60" stroke="#2ca02c" stroke-width="1.0" fill="none"/>
<polyline points="206.55,250.16 207.15,249.52 207.75,248.86 208.35,248.19 208.95,247.51 209.55,246.84 210.15,246.18 210.75,245.53 211.35,244.92 211.95,244.34 212.55,243.80 213.15,243.30 213.75,242.82 214.35,242.36 214.95,241.93 215.55,241.50 216.15,241.08 216.75,240.65 217.35,240.22 217.95,239.78 218.55,239.33 219.15,238.85 219.75,238.36 220.35,237.84 220.95,237.31 221.55,236.76 222.15,236.19 222.75,235.60 223.35,235.00 223.95,234.38 224.55,233.75 225.15,233.09 225.75,232.42 226.35,231.74 226.95,231.04 227.55,230.32 228.15,229.59 228.75,228.85 229.35,228.09 229.95,227.32 230.55,226.53 231.15,225.73 231.75,224.92 232.35,224.10 232.95,223.26 233.55,222.41 234.15,221.55 234.75,220.67 235.35,219.79 235.95,218.89 236.55,217.99 237.15,217.07 237.75,216.14 238.35,215.21 238.95,214.26 239.55,213.31 240.15,212.34 240.75,211.37 241.35,210.39 241.95,209.40 242.55,208.41 243.15,207.40 243.75,206.39 244.35,205.37 244.95,204.35 245.55,203.32 246.15,202.28 246.75,201.24 247.35,200.19 247.95,199.14 248.55,198.09 249.15,197.02 249.75,195.96 250.35,194.90 250.95,193.84 251.55,192.79 252.15,191.75 252.75,190.71 253.35,189.69 253.95,188.68 254.55,187.69 255.15,186.73 255.75,185.78 256.35,184.86 256.95,183.96 257.55,183.10 258.15,182.26 258.75,181.46 259.35,180.70 259.95,179.98 260.55,179.29 261.15,178.66 261.75,178.06 262.35,177.52 262.95,177.03 263.55,176.59 264.15,176.21 264.75,175.88 265.35,175.62 265.95,175.41 266.55,175.28 267.15,175.21 267.75,175.21 268.35,175.28 268.95,175.43 269.55,175.64 270.15,175.92 270.75,176.27 271.35,176.67 271.95,177.14 272.55,177.67 273.15,178.25 273.75,178.88 274.35,179.57 274.95,180.30 275.55,181.08 276.15,181.91 276.75,182.78 277.35,183.71 277.95,184.68 278.55,185.71 279.15,186.79 279.75,187.94 280.35,189.14 280.95,190.41 281.55,191.74 282.15,193.14 282.75,194.61 283.35,196.14 283.95,197.75 284.55,199.42 285.15,201.14 285.75,202.91 286.35,204.73 286.95,206.58 287.55,208.46 288.15,210.37 288.75,212.29 289.35,214.23 289.95,216.18 290.55,218.15 291.15,220.13 291.75,222.13 292.35,224.14 292.95,226.18 293.55,228.23 294.15,230.29 294.75,232.38 295.35,234.48 295.95,236.60 296.55,238.74 297.15,240.90 297.75,243.07 298.35,245.27 298.95,247.48 299.55,249.71 300.15,251.95 300.75,254.20 301.35,256.45 301.95,258.70 302.55,260.94 303.15,263.14 303.75,265.32 304.35,267.45 304.95,269.53 305.55,271.55 306.15,273.49 306.75,275.36 307.35,277.13 307.95,278.82 308.55,280.42 309.15,281.93 309.75,283.37 310.35,284.72 310.95,285.99 311.55,287.19 312.15,288.31 312.75,289.36 313.35,290.35 313.95,291.26 314.55,292.11 315.15,292.89 315.75,293.60 316.35,294.25 316.95,294.83 317.55,295.37 318.15,295.85 318.75,296.27 319.35,296.63 319.95,296.93 320.55,297.19 321.15,297.44 321.75,297.66 322.35,297.88 322.95,298.10 323.55,298.29 324.15,298.45 324.75,298.58 325.35,298.67 325.95,298.72 326.55,298.74 327.15,298.77 327.75,298.80 328.35,298.82 328.95,298.84 329.55,298.87 330.15,298.89 330.75,298.91 331.35,298.93 331.95,298.95 332.55,298.96 333.15,298.98 333.75,299.00 334.35,299.01 334.95,299.03 335.55,299.04 336.15,299.05 336.75,299.06 337.35,299.08 337.95,299.09 338.55,299.10 339.15,299.11 339.75,299.11 340.35,299.12 340.95,299.13 341.55,299.13 342.15,299.14 342.75,299.14 343.35,299.15 343.95,299.15 344.55,299.16 345.15,299.16 345.75,299.16 346.35,299.16 346.95,299.16 347.55,299.16" stroke="#d62728" stroke-width="1.1" fill="none" stroke-dasharray="3.9 2.2"/>
</g>
<path d="M201.05 299.46H203.55M201.05 280.88H203.55M201.05 262.30H203.55M201.05 243.72H203.55M201.05 225.14H203.55M201.05 206.56H203.55M201.05 187.98H203.55M201.05 169.40H203.55M203.55 299.46V301.86M227.55 299.46V301.86M251.55 299.46V301.86M275.55 299.46V301.86M299.55 299.46V301.86M323.55 299.46V301.86M347.55 299.46V301.86" stroke="#000" stroke-width="0.65" fill="none"/>
<path d="M203.55 158.25V299.46M347.55 158.25V299.46M203.55 299.46H347.55" stroke="#000" stroke-width="0.65" fill="none"/>
<path d="M203.55 158.25H347.55" stroke="#000" stroke-width="0.65" fill="none"/>
<rect x="295.80" y="163.50" width="48.10" height="15.85" fill="#fff" stroke="#000" stroke-width="0.75"/>
<g clip-path="url(#c12)">
<path d="M370.25 242.63h4.60M372.55 240.33v4.60M373.25 240.21h4.60M375.55 237.91v4.60M376.25 237.75h4.60M378.55 235.45v4.60M379.25 235.20h4.60M381.55 232.90v4.60M382.25 232.52h4.60M384.55 230.22v4.60M385.25 229.66h4.60M387.55 227.36v4.60M388.25 226.61h4.60M390.55 224.31v4.60M391.25 223.32h4.60M393.55 221.02v4.60M394.25 219.82h4.60M396.55 217.52v4.60M397.25 216.14h4.60M399.55 213.84v4.60M400.25 212.33h4.60M402.55 210.03v4.60M403.25 208.42h4.60M405.55 206.12v4.60M406.25 204.44h4.60M408.55 202.14v4.60M409.25 200.43h4.60M411.55 198.13v4.60M412.25 196.43h4.60M414.55 194.13v4.60M415.25 192.54h4.60M417.55 190.24v4.60M418.25 188.93h4.60M420.55 186.63v4.60M421.25 185.77h4.60M423.55 183.47v4.60M424.25 183.24h4.60M426.55 180.94v4.60M427.25 181.53h4.60M429.55 179.23v4.60M430.25 180.79h4.60M432.55 178.49v4.60M433.25 181.21h4.60M435.55 178.91v4.60M436.25 182.91h4.60M438.55 180.61v4.60M439.25 185.91h4.60M441.55 183.61v4.60M442.25 190.21h4.60M444.55 187.91v4.60M445.25 195.82h4.60M447.55 193.52v4.60M448.25 202.96h4.60M450.55 200.66v4.60M451.25 212.62h4.60M453.55 210.32v4.60M454.25 221.14h4.60M456.55 218.84v4.60M457.25 230.58h4.60M459.55 228.28v4.60M460.25 243.21h4.60M462.55 240.91v4.60M463.25 254.51h4.60M465.55 252.21v4.60M466.25 264.37h4.60M468.55 262.07v4.60M469.25 273.32h4.60M471.55 271.02v4.60M472.25 281.17h4.60M474.55 278.87v4.60M475.25 287.70h4.60M477.55 285.40v4.60M478.25 292.66h4.60M480.55 290.36v4.60M481.25 295.93h4.60M483.55 293.63v4.60M484.25 297.46h4.60M486.55 295.16v4.60M487.25 298.16h4.60M489.55 295.86v4.60M490.25 298.44h4.60M492.55 296.14v4.60M493.25 298.62h4.60M495.55 296.32v4.60M496.25 298.76h4.60M498.55 296.46v4.60M499.25 298.88h4.60M501.55 296.58v4.60M502.25 298.97h4.60M504.55 296.67v4.60M505.25 299.04h4.60M507.55 296.74v4.60M508.25 299.08h4.60M510.55 296.78v4.60M511.25 299.09h4.60M513.55 296.79v4.60" stroke="#1f77b4" stroke-width="1.0" fill="none"/>
<circle cx="372.55" cy="243.99" r="1.35" fill="#ff7f0e"/>
<circle cx="375.55" cy="241.63" r="1.35" fill="#ff7f0e"/>
<circle cx="378.55" cy="239.22" r="1.35" fill="#ff7f0e"/>
<circle cx="381.55" cy="236.71" r="1.35" fill="#ff7f0e"/>
<circle cx="384.55" cy="234.08" r="1.35" fill="#ff7f0e"/>
<circle cx="387.55" cy="231.28" r="1.35" fill="#ff7f0e"/>
<circle cx="390.55" cy="228.28" r="1.35" fill="#ff7f0e"/>
<circle cx="393.55" cy="225.04" r="1.35" fill="#ff7f0e"/>
<circle cx="396.55" cy="221.59" r="1.35" fill="#ff7f0e"/>
<circle cx="399.55" cy="217.97" r="1.35" fill="#ff7f0e"/>
<circle cx="402.55" cy="214.20" r="1.35" fill="#ff7f0e"/>
<circle cx="405.55" cy="210.32" r="1.35" fill="#ff7f0e"/>
<circle cx="408.55" cy="206.38" r="1.35" fill="#ff7f0e"/>
<circle cx="411.55" cy="202.39" r="1.35" fill="#ff7f0e"/>
<circle cx="414.55" cy="198.40" r="1.35" fill="#ff7f0e"/>
<circle cx="417.55" cy="194.50" r="1.35" fill="#ff7f0e"/>
<circle cx="420.55" cy="190.88" r="1.35" fill="#ff7f0e"/>
<circle cx="423.55" cy="187.70" r="1.35" fill="#ff7f0e"/>
<circle cx="426.55" cy="185.15" r="1.35" fill="#ff7f0e"/>
<circle cx="429.55" cy="183.42" r="1.35" fill="#ff7f0e"/>
<circle cx="432.55" cy="182.67" r="1.35" fill="#ff7f0e"/>
<circle cx="435.55" cy="183.09" r="1.35" fill="#ff7f0e"/>
<circle cx="438.55" cy="184.81" r="1.35" fill="#ff7f0e"/>
<circle cx="441.55" cy="187.84" r="1.35" fill="#ff7f0e"/>
<circle cx="444.55" cy="192.17" r="1.35" fill="#ff7f0e"/>
<circle cx="447.55" cy="197.79" r="1.35" fill="#ff7f0e"/>
<circle cx="450.55" cy="204.90" r="1.35" fill="#ff7f0e"/>
<circle cx="453.55" cy="214.49" r="1.35" fill="#ff7f0e"/>
<circle cx="456.55" cy="222.89" r="1.35" fill="#ff7f0e"/>
<circle cx="459.55" cy="232.19" r="1.35" fill="#ff7f0e"/>
<circle cx="462.55" cy="244.57" r="1.35" fill="#ff7f0e"/>
<circle cx="465.55" cy="255.61" r="1.35" fill="#ff7f0e"/>
<circle cx="468.55" cy="265.24" r="1.35" fill="#ff7f0e"/>
<circle cx="471.55" cy="273.97" r="1.35" fill="#ff7f0e"/>
<circle cx="474.55" cy="281.63" r="1.35" fill="#ff7f0e"/>
<circle cx="477.55" cy="288.00" r="1.35" fill="#ff7f0e"/>
<circle cx="480.55" cy="292.83" r="1.35" fill="#ff7f0e"/>
<circle cx="483.55" cy="296.02" r="1.35" fill="#ff7f0e"/>
<circle cx="486.55" cy="297.51" r="1.35" fill="#ff7f0e"/>
<circle cx="489.55" cy="298.19" r="1.35" fill="#ff7f0e"/>
<circle cx="492.55" cy="298.47" r="1.35" fill="#ff7f0e"/>
<circle cx="495.55" cy="298.64" r="1.35" fill="#ff7f0e"/>
<circle cx="498.55" cy="298.78" r="1.35" fill="#ff7f0e"/>
<circle cx="501.55" cy="298.90" r="1.35" fill="#ff7f0e"/>
<circle cx="504.55" cy="298.99" r="1.35" fill="#ff7f0e"/>
<circle cx="507.55" cy="299.05" r="1.35" fill="#ff7f0e"/>
<circle cx="510.55" cy="299.09" r="1.35" fill="#ff7f0e"/>
<circle cx="513.55" cy="299.10" r="1.35" fill="#ff7f0e"/>
<path d="M370.25 240.27l4.60 4.60M370.25 244.87l4.60 -4.60M373.25 237.85l4.60 4.60M373.25 242.45l4.60 -4.60M376.25 235.37l4.60 4.60M376.25 239.97l4.60 -4.60M379.25 232.81l4.60 4.60M379.25 237.41l4.60 -4.60M382.25 230.11l4.60 4.60M382.25 234.71l4.60 -4.60M385.25 227.24l4.60 4.60M385.25 231.84l4.60 -4.60M388.25 224.15l4.60 4.60M388.25 228.75l4.60 -4.60M391.25 220.83l4.60 4.60M391.25 225.43l4.60 -4.60M394.25 217.30l4.60 4.60M394.25 221.90l4.60 -4.60M397.25 213.58l4.60 4.60M397.25 218.18l4.60 -4.60M400.25 209.71l4.60 4.60M400.25 214.31l4.60 -4.60M403.25 205.74l4.60 4.60M403.25 210.34l4.60 -4.60M406.25 201.69l4.60 4.60M406.25 206.29l4.60 -4.60M409.25 197.60l4.60 4.60M409.25 202.20l4.60 -4.60M412.25 193.51l4.60 4.60M412.25 198.11l4.60 -4.60M415.25 189.51l4.60 4.60M415.25 194.11l4.60 -4.60M418.25 185.79l4.60 4.60M418.25 190.39l4.60 -4.60M421.25 182.53l4.60 4.60M421.25 187.13l4.60 -4.60M424.25 179.92l4.60 4.60M424.25 184.52l4.60 -4.60M427.25 178.14l4.60 4.60M427.25 182.74l4.60 -4.60M430.25 177.37l4.60 4.60M430.25 181.97l4.60 -4.60M433.25 177.81l4.60 4.60M433.25 182.41l4.60 -4.60M436.25 179.57l4.60 4.60M436.25 184.17l4.60 -4.60M439.25 182.68l4.60 4.60M439.25 187.28l4.60 -4.60M442.25 187.12l4.60 4.60M442.25 191.72l4.60 -4.60M445.25 192.88l4.60 4.60M445.25 197.48l4.60 -4.60M448.25 200.18l4.60 4.60M448.25 204.78l4.60 -4.60M451.25 210.01l4.60 4.60M451.25 214.61l4.60 -4.60M454.25 218.63l4.60 4.60M454.25 223.23l4.60 -4.60M457.25 228.16l4.60 4.60M457.25 232.76l4.60 -4.60M460.25 240.86l4.60 4.60M460.25 245.46l4.60 -4.60M463.25 252.18l4.60 4.60M463.25 256.78l4.60 -4.60M466.25 262.06l4.60 4.60M466.25 266.66l4.60 -4.60M469.25 271.01l4.60 4.60M469.25 275.61l4.60 -4.60M472.25 278.87l4.60 4.60M472.25 283.47l4.60 -4.60M475.25 285.40l4.60 4.60M475.25 290.00l4.60 -4.60M478.25 290.36l4.60 4.60M478.25 294.96l4.60 -4.60M481.25 293.63l4.60 4.60M481.25 298.23l4.60 -4.60M484.25 295.16l4.60 4.60M484.25 299.76l4.60 -4.60M487.25 295.86l4.60 4.60M487.25 300.46l4.60 -4.60M490.25 296.14l4.60 4.60M490.25 300.74l4.60 -4.60M493.25 296.32l4.60 4.60M493.25 300.92l4.60 -4.60M496.25 296.46l4.60 4.60M496.25 301.06l4.60 -4.60M499.25 296.58l4.60 4.60M499.25 301.18l4.60 -4.60M502.25 296.67l4.60 4.60M502.25 301.27l4.60 -4.60M505.25 296.74l4.60 4.60M505.25 301.34l4.60 -4.60M508.25 296.78l4.60 4.60M508.25 301.38l4.60 -4.60M511.25 296.79l4.60 4.60M511.25 301.39l4.60 -4.60" stroke="#2ca02c" stroke-width="1.0" fill="none"/>
<polyline points="372.55,243.46 373.15,242.98 373.75,242.50 374.35,242.02 374.95,241.55 375.55,241.07 376.15,240.60 376.75,240.14 377.35,239.67 377.95,239.20 378.55,238.74 379.15,238.28 379.75,237.82 380.35,237.36 380.95,236.90 381.55,236.44 382.15,235.98 382.75,235.52 383.35,235.06 383.95,234.60 384.55,234.14 385.15,233.67 385.75,233.21 386.35,232.74 386.95,232.27 387.55,231.80 388.15,231.33 388.75,230.85 389.35,230.37 389.95,229.89 390.55,229.40 391.15,228.91 391.75,228.42 392.35,227.91 392.95,227.41 393.55,226.89 394.15,226.37 394.75,225.85 395.35,225.31 395.95,224.77 396.55,224.23 397.15,223.67 397.75,223.10 398.35,222.53 398.95,221.94 399.55,221.35 400.15,220.74 400.75,220.13 401.35,219.50 401.95,218.86 402.55,218.21 403.15,217.55 403.75,216.87 404.35,216.18 404.95,215.48 405.55,214.77 406.15,214.04 406.75,213.29 407.35,212.53 407.95,211.75 408.55,210.96 409.15,210.16 409.75,209.33 410.35,208.49 410.95,207.64 411.55,206.78 412.15,205.92 412.75,205.04 413.35,204.16 413.95,203.28 414.55,202.40 415.15,201.52 415.75,200.64 416.35,199.77 416.95,198.91 417.55,198.05 418.15,197.21 418.75,196.38 419.35,195.57 419.95,194.77 420.55,193.99 421.15,193.24 421.75,192.50 422.35,191.79 422.95,191.10 423.55,190.44 424.15,189.80 424.75,189.19 425.35,188.61 425.95,188.05 426.55,187.53 427.15,187.04 427.75,186.58 428.35,186.16 428.95,185.77 429.55,185.42 430.15,185.11 430.75,184.83 431.35,184.59 431.95,184.40 432.55,184.24 433.15,184.13 433.75,184.07 434.35,184.04 434.95,184.07 435.55,184.14 436.15,184.26 436.75,184.44 437.35,184.66 437.95,184.93 438.55,185.26 439.15,185.64 439.75,186.08 440.35,186.58 440.95,187.13 441.55,187.74 442.15,188.41 442.75,189.14 443.35,189.93 443.95,190.77 444.55,191.66 445.15,192.61 445.75,193.61 446.35,194.66 446.95,195.76 447.55,196.91 448.15,198.10 448.75,199.33 449.35,200.61 449.95,201.94 450.55,203.30 451.15,204.70 451.75,206.14 452.35,207.61 452.95,209.12 453.55,210.66 454.15,212.24 454.75,213.84 455.35,215.48 455.95,217.15 456.55,218.84 457.15,220.56 457.75,222.31 458.35,224.08 458.95,225.87 459.55,227.69 460.15,229.52 460.75,231.38 461.35,233.26 461.95,235.15 462.55,237.06 463.15,238.99 463.75,240.93 464.35,242.89 464.95,244.85 465.55,246.83 466.15,248.82 466.75,250.82 467.35,252.82 467.95,254.83 468.55,256.85 469.15,258.85 469.75,260.85 470.35,262.83 470.95,264.80 471.55,266.73 472.15,268.63 472.75,270.50 473.35,272.32 473.95,274.09 474.55,275.81 475.15,277.47 475.75,279.06 476.35,280.58 476.95,282.03 477.55,283.40 478.15,284.69 478.75,285.92 479.35,287.08 479.95,288.17 480.55,289.19 481.15,290.15 481.75,291.08 482.35,291.95 482.95,292.75 483.55,293.51 484.15,294.22 484.75,294.88 485.35,295.48 485.95,296.00 486.55,296.44 487.15,296.78 487.75,297.08 488.35,297.34 488.95,297.58 489.55,297.80 490.15,298.00 490.75,298.17 491.35,298.32 491.95,298.43 492.55,298.52 493.15,298.57 493.75,298.60 494.35,298.63 494.95,298.66 495.55,298.69 496.15,298.72 496.75,298.75 497.35,298.77 497.95,298.80 498.55,298.82 499.15,298.84 499.75,298.86 500.35,298.88 500.95,298.90 501.55,298.92 502.15,298.94 502.75,298.95 503.35,298.97 503.95,298.98 504.55,299.00 505.15,299.01 505.75,299.02 506.35,299.03 506.95,299.04 507.55,299.05 508.15,299.06 508.75,299.06 509.35,299.07 509.95,299.07 510.55,299.08 511.15,299.08 511.75,299.08 512.35,299.09 512.95,299.09 513.55,299.09" stroke="#d62728" stroke-width="1.1" fill="none" stroke-dasharray="3.9 2.2"/>
</g>
<path d="M367.05 299.46H369.55M367.05 280.88H369.55M367.05 262.30H369.55M367.05 243.72H369.55M367.05 225.14H369.55M367.05 206.56H369.55M367.05 187.98H369.55M367.05 169.40H369.55M369.55 299.46V301.86M393.55 299.46V301.86M417.55 299.46V301.86M441.55 299.46V301.86M465.55 299.46V301.86M489.55 299.46V301.86M513.55 299.46V301.86" stroke="#000" stroke-width="0.65" fill="none"/>
<path d="M369.55 158.25V299.46M513.55 158.25V299.46M369.55 299.46H513.55" stroke="#000" stroke-width="0.65" fill="none"/>
<path d="M369.55 158.25H513.55" stroke="#000" stroke-width="0.65" fill="none"/>
<rect x="459.20" y="163.50" width="53.30" height="15.85" fill="#fff" stroke="#000" stroke-width="0.75"/>
<g clip-path="url(#c13)">
<path d="M535.76 234.98h4.60M538.06 232.68v4.60M538.77 232.02h4.60M541.07 229.72v4.60M541.77 229.74h4.60M544.07 227.44v4.60M544.78 227.90h4.60M547.08 225.60v4.60M547.79 226.24h4.60M550.09 223.94v4.60M550.80 224.52h4.60M553.10 222.22v4.60M553.81 222.59h4.60M556.11 220.29v4.60M556.82 220.45h4.60M559.12 218.15v4.60M559.83 218.09h4.60M562.12 215.79v4.60M562.83 215.49h4.60M565.13 213.19v4.60M565.84 212.66h4.60M568.14 210.36v4.60M568.85 209.64h4.60M571.15 207.34v4.60M571.86 206.50h4.60M574.16 204.20v4.60M574.87 203.29h4.60M577.17 200.99v4.60M577.88 200.09h4.60M580.17 197.79v4.60M580.88 196.97h4.60M583.18 194.67v4.60M583.89 193.97h4.60M586.19 191.67v4.60M586.90 191.21h4.60M589.20 188.91v4.60M589.91 188.87h4.60M592.21 186.57v4.60M592.92 187.13h4.60M595.22 184.83v4.60M595.93 186.18h4.60M598.23 183.88v4.60M598.93 186.22h4.60M601.23 183.92v4.60M601.94 187.43h4.60M604.24 185.13v4.60M604.95 190.01h4.60M607.25 187.71v4.60M607.96 194.02h4.60M610.26 191.72v4.60M610.97 199.45h4.60M613.27 197.15v4.60M613.98 206.22h4.60M616.27 203.92v4.60M616.98 214.00h4.60M619.28 211.70v4.60M619.99 222.48h4.60M622.29 220.18v4.60M623.00 231.72h4.60M625.30 229.42v4.60M626.01 241.73h4.60M628.31 239.43v4.60M629.02 252.01h4.60M631.32 249.71v4.60M632.03 262.00h4.60M634.33 259.70v4.60M635.03 271.29h4.60M637.33 268.99v4.60M638.04 279.52h4.60M640.34 277.22v4.60M641.05 286.32h4.60M643.35 284.02v4.60M644.06 291.43h4.60M646.36 289.13v4.60M647.07 295.22h4.60M649.37 292.92v4.60M650.08 297.37h4.60M652.38 295.07v4.60M653.08 298.20h4.60M655.38 295.90v4.60M656.09 298.42h4.60M658.39 296.12v4.60M659.10 298.61h4.60M661.40 296.31v4.60M662.11 298.77h4.60M664.41 296.47v4.60M665.12 298.89h4.60M667.42 296.59v4.60M668.13 298.98h4.60M670.43 296.68v4.60M671.13 299.04h4.60M673.43 296.74v4.60M674.14 299.08h4.60M676.44 296.78v4.60M677.15 299.09h4.60M679.45 296.79v4.60" stroke="#1f77b4" stroke-width="1.0" fill="none"/>
<circle cx="538.06" cy="236.48" r="1.35" fill="#ff7f0e"/>
<circle cx="541.07" cy="233.57" r="1.35" fill="#ff7f0e"/>
<circle cx="544.07" cy="231.34" r="1.35" fill="#ff7f0e"/>
<circle cx="547.08" cy="229.52" r="1.35" fill="#ff7f0e"/>
<circle cx="550.09" cy="227.89" r="1.35" fill="#ff7f0e"/>
<circle cx="553.10" cy="226.19" r="1.35" fill="#ff7f0e"/>
<circle cx="556.11" cy="224.29" r="1.35" fill="#ff7f0e"/>
<circle cx="559.12" cy="222.18" r="1.35" fill="#ff7f0e"/>
<circle cx="562.12" cy="219.84" r="1.35" fill="#ff7f0e"/>
<circle cx="565.13" cy="217.27" r="1.35" fill="#ff7f0e"/>
<circle cx="568.14" cy="214.47" r="1.35" fill="#ff7f0e"/>
<circle cx="571.15" cy="211.47" r="1.35" fill="#ff7f0e"/>
<circle cx="574.16" cy="208.34" r="1.35" fill="#ff7f0e"/>
<circle cx="577.17" cy="205.14" r="1.35" fill="#ff7f0e"/>
<circle cx="580.17" cy="201.94" r="1.35" fill="#ff7f0e"/>
<circle cx="583.18" cy="198.81" r="1.35" fill="#ff7f0e"/>
<circle cx="586.19" cy="195.80" r="1.35" fill="#ff7f0e"/>
<circle cx="589.20" cy="193.02" r="1.35" fill="#ff7f0e"/>
<circle cx="592.21" cy="190.65" r="1.35" fill="#ff7f0e"/>
<circle cx="595.22" cy="188.89" r="1.35" fill="#ff7f0e"/>
<circle cx="598.23" cy="187.93" r="1.35" fill="#ff7f0e"/>
<circle cx="601.23" cy="187.96" r="1.35" fill="#ff7f0e"/>
<circle cx="604.24" cy="189.19" r="1.35" fill="#ff7f0e"/>
<circle cx="607.25" cy="191.80" r="1.35" fill="#ff7f0e"/>
<circle cx="610.26" cy="195.84" r="1.35" fill="#ff7f0e"/>
<circle cx="613.27" cy="201.30" r="1.35" fill="#ff7f0e"/>
<circle cx="616.27" cy="208.06" r="1.35" fill="#ff7f0e"/>
<circle cx="619.28" cy="215.79" r="1.35" fill="#ff7f0e"/>
<circle cx="622.29" cy="224.18" r="1.35" fill="#ff7f0e"/>
<circle cx="625.30" cy="233.28" r="1.35" fill="#ff7f0e"/>
<circle cx="628.31" cy="243.10" r="1.35" fill="#ff7f0e"/>
<circle cx="631.32" cy="253.16" r="1.35" fill="#ff7f0e"/>
<circle cx="634.33" cy="262.92" r="1.35" fill="#ff7f0e"/>
<circle cx="637.33" cy="271.99" r="1.35" fill="#ff7f0e"/>
<circle cx="640.34" cy="280.01" r="1.35" fill="#ff7f0e"/>
<circle cx="643.35" cy="286.65" r="1.35" fill="#ff7f0e"/>
<circle cx="646.36" cy="291.63" r="1.35" fill="#ff7f0e"/>
<circle cx="649.37" cy="295.32" r="1.35" fill="#ff7f0e"/>
<circle cx="652.38" cy="297.42" r="1.35" fill="#ff7f0e"/>
<circle cx="655.38" cy="298.23" r="1.35" fill="#ff7f0e"/>
<circle cx="658.39" cy="298.45" r="1.35" fill="#ff7f0e"/>
<circle cx="661.40" cy="298.63" r="1.35" fill="#ff7f0e"/>
<circle cx="664.41" cy="298.78" r="1.35" fill="#ff7f0e"/>
<circle cx="667.42" cy="298.90" r="1.35" fill="#ff7f0e"/>
<circle cx="670.43" cy="298.99" r="1.35" fill="#ff7f0e"/>
<circle cx="673.43" cy="299.05" r="1.35" fill="#ff7f0e"/>
<circle cx="676.44" cy="299.09" r="1.35" fill="#ff7f0e"/>
<circle cx="679.45" cy="299.10" r="1.35" fill="#ff7f0e"/>
<path d="M535.76 232.56l4.60 4.60M535.76 237.16l4.60 -4.60M538.77 229.58l4.60 4.60M538.77 234.18l4.60 -4.60M541.77 227.29l4.60 4.60M541.77 231.89l4.60 -4.60M544.78 225.43l4.60 4.60M544.78 230.03l4.60 -4.60M547.79 223.75l4.60 4.60M547.79 228.35l4.60 -4.60M550.80 222.01l4.60 4.60M550.80 226.61l4.60 -4.60M553.81 220.06l4.60 4.60M553.81 224.66l4.60 -4.60M556.82 217.90l4.60 4.60M556.82 222.50l4.60 -4.60M559.83 215.50l4.60 4.60M559.83 220.10l4.60 -4.60M562.83 212.86l4.60 4.60M562.83 217.46l4.60 -4.60M565.84 209.99l4.60 4.60M565.84 214.59l4.60 -4.60M568.85 206.91l4.60 4.60M568.85 211.51l4.60 -4.60M571.86 203.70l4.60 4.60M571.86 208.30l4.60 -4.60M574.87 200.42l4.60 4.60M574.87 205.02l4.60 -4.60M577.88 197.14l4.60 4.60M577.88 201.74l4.60 -4.60M580.88 193.93l4.60 4.60M580.88 198.53l4.60 -4.60M583.89 190.84l4.60 4.60M583.89 195.44l4.60 -4.60M586.90 187.99l4.60 4.60M586.90 192.59l4.60 -4.60M589.91 185.56l4.60 4.60M589.91 190.16l4.60 -4.60M592.92 183.75l4.60 4.60M592.92 188.35l4.60 -4.60M595.93 182.77l4.60 4.60M595.93 187.37l4.60 -4.60M598.93 182.80l4.60 4.60M598.93 187.40l4.60 -4.60M601.94 184.06l4.60 4.60M601.94 188.66l4.60 -4.60M604.95 186.74l4.60 4.60M604.95 191.34l4.60 -4.60M607.96 190.89l4.60 4.60M607.96 195.49l4.60 -4.60M610.97 196.48l4.60 4.60M610.97 201.08l4.60 -4.60M613.98 203.42l4.60 4.60M613.98 208.02l4.60 -4.60M616.98 211.35l4.60 4.60M616.98 215.95l4.60 -4.60M619.99 219.95l4.60 4.60M619.99 224.55l4.60 -4.60M623.00 229.28l4.60 4.60M623.00 233.88l4.60 -4.60M626.01 239.36l4.60 4.60M626.01 243.96l4.60 -4.60M629.02 249.68l4.60 4.60M629.02 254.28l4.60 -4.60M632.03 259.68l4.60 4.60M632.03 264.28l4.60 -4.60M635.03 268.98l4.60 4.60M635.03 273.58l4.60 -4.60M638.04 277.22l4.60 4.60M638.04 281.82l4.60 -4.60M641.05 284.02l4.60 4.60M641.05 288.62l4.60 -4.60M644.06 289.13l4.60 4.60M644.06 293.73l4.60 -4.60M647.07 292.92l4.60 4.60M647.07 297.52l4.60 -4.60M650.08 295.07l4.60 4.60M650.08 299.67l4.60 -4.60M653.08 295.90l4.60 4.60M653.08 300.50l4.60 -4.60M656.09 296.12l4.60 4.60M656.09 300.72l4.60 -4.60M659.10 296.31l4.60 4.60M659.10 300.91l4.60 -4.60M662.11 296.47l4.60 4.60M662.11 301.07l4.60 -4.60M665.12 296.59l4.60 4.60M665.12 301.19l4.60 -4.60M668.13 296.68l4.60 4.60M668.13 301.28l4.60 -4.60M671.13 296.74l4.60 4.60M671.13 301.34l4.60 -4.60M674.14 296.78l4.60 4.60M674.14 301.38l4.60 -4.60M677.15 296.79l4.60 4.60M677.15 301.39l4.60 -4.60" stroke="#2ca02c" stroke-width="1.0" fill="none"/>
<polyline points="538.06,236.47 538.66,235.94 539.26,235.42 539.86,234.93 540.46,234.46 541.07,234.00 541.67,233.57 542.27,233.15 542.87,232.74 543.47,232.35 544.07,231.97 544.68,231.61 545.28,231.26 545.88,230.91 546.48,230.58 547.08,230.26 547.68,229.94 548.29,229.63 548.89,229.33 549.49,229.04 550.09,228.74 550.69,228.45 551.29,228.17 551.90,227.88 552.50,227.59 553.10,227.31 553.70,227.02 554.30,226.73 554.90,226.44 555.51,226.14 556.11,225.84 556.71,225.53 557.31,225.21 557.91,224.89 558.51,224.57 559.12,224.23 559.72,223.89 560.32,223.55 560.92,223.20 561.52,222.84 562.12,222.47 562.73,222.10 563.33,221.71 563.93,221.33 564.53,220.93 565.13,220.53 565.74,220.12 566.34,219.70 566.94,219.28 567.54,218.84 568.14,218.40 568.74,217.95 569.35,217.49 569.95,217.03 570.55,216.55 571.15,216.07 571.75,215.58 572.35,215.08 572.95,214.57 573.56,214.05 574.16,213.53 574.76,212.99 575.36,212.45 575.96,211.89 576.56,211.33 577.17,210.76 577.77,210.17 578.37,209.58 578.97,208.98 579.57,208.37 580.17,207.75 580.78,207.12 581.38,206.49 581.98,205.85 582.58,205.21 583.18,204.56 583.78,203.92 584.39,203.27 584.99,202.62 585.59,201.98 586.19,201.33 586.79,200.70 587.39,200.06 588.00,199.44 588.60,198.81 589.20,198.20 589.80,197.60 590.40,197.01 591.00,196.43 591.61,195.86 592.21,195.31 592.81,194.77 593.41,194.25 594.01,193.74 594.62,193.25 595.22,192.79 595.82,192.34 596.42,191.91 597.02,191.51 597.62,191.14 598.23,190.79 598.83,190.48 599.43,190.22 600.03,189.99 600.63,189.81 601.23,189.69 601.84,189.62 602.44,189.62 603.04,189.68 603.64,189.81 604.24,190.01 604.84,190.29 605.45,190.65 606.05,191.07 606.65,191.56 607.25,192.11 607.85,192.71 608.45,193.36 609.06,194.05 609.66,194.78 610.26,195.54 610.86,196.33 611.46,197.14 612.06,197.97 612.66,198.80 613.27,199.66 613.87,200.52 614.47,201.41 615.07,202.31 615.67,203.24 616.27,204.20 616.88,205.18 617.48,206.20 618.08,207.25 618.68,208.34 619.28,209.46 619.88,210.63 620.49,211.84 621.09,213.10 621.69,214.41 622.29,215.76 622.89,217.18 623.50,218.65 624.10,220.18 624.70,221.77 625.30,223.43 625.90,225.14 626.50,226.91 627.11,228.73 627.71,230.59 628.31,232.48 628.91,234.41 629.51,236.36 630.11,238.33 630.72,240.31 631.32,242.30 631.92,244.29 632.52,246.28 633.12,248.26 633.72,250.22 634.33,252.17 634.93,254.08 635.53,255.97 636.13,257.82 636.73,259.65 637.33,261.46 637.94,263.25 638.54,265.03 639.14,266.81 639.74,268.60 640.34,270.38 640.94,272.18 641.55,274.00 642.15,275.84 642.75,277.67 643.35,279.46 643.95,281.20 644.55,282.84 645.15,284.37 645.76,285.80 646.36,287.12 646.96,288.35 647.56,289.47 648.16,290.50 648.77,291.45 649.37,292.34 649.97,293.17 650.57,293.93 651.17,294.61 651.77,295.20 652.38,295.68 652.98,296.12 653.58,296.53 654.18,296.91 654.78,297.27 655.38,297.59 655.99,297.85 656.59,298.04 657.19,298.17 657.79,298.23 658.39,298.28 658.99,298.33 659.60,298.38 660.20,298.43 660.80,298.47 661.40,298.52 662.00,298.56 662.60,298.60 663.21,298.63 663.81,298.67 664.41,298.70 665.01,298.74 665.61,298.77 666.21,298.80 666.82,298.83 667.42,298.85 668.02,298.88 668.62,298.90 669.22,298.92 669.82,298.94 670.43,298.96 671.03,298.98 671.63,298.99 672.23,299.01 672.83,299.02 673.43,299.03 674.04,299.04 674.64,299.05 675.24,299.06 675.84,299.07 676.44,299.08 677.04,299.08 677.64,299.08 678.25,299.09 678.85,299.09 679.45,299.09" stroke="#d62728" stroke-width="1.1" fill="none" stroke-dasharray="3.9 2.2"/>
</g>
<path d="M532.55 299.46H535.05M532.55 280.88H535.05M532.55 262.30H535.05M532.55 243.72H535.05M532.55 225.14H535.05M532.55 206.56H535.05M532.55 187.98H535.05M532.55 169.40H535.05M535.05 299.46V301.86M559.12 299.46V301.86M583.18 299.46V301.86M607.25 299.46V301.86M631.32 299.46V301.86M655.38 299.46V301.86M679.45 299.46V301.86" stroke="#000" stroke-width="0.65" fill="none"/>
<path d="M535.05 158.25V299.46M679.45 158.25V299.46M535.05 299.46H679.45" stroke="#000" stroke-width="0.65" fill="none"/>
<path d="M535.05 158.25H679.45" stroke="#000" stroke-width="0.65" fill="none"/>
<rect x="625.00" y="163.50" width="52.70" height="15.85" fill="#fff" stroke="#000" stroke-width="0.75"/>
<rect x="185.7" y="336.6" width="324.5" height="18.7" rx="1.6" fill="#fff" fill-opacity="0.8" stroke="#cccccc" stroke-width="0.7"/>
<path d="M198.45 345.4h4.60M200.75 343.10v4.60" stroke="#1f77b4" stroke-width="0.9"/>
<circle cx="283.0" cy="345.45" r="1.35" fill="#ff7f0e"/>
<path d="M362.30 343.15l4.60 4.60M362.30 347.75l4.60 -4.60" stroke="#2ca02c" stroke-width="0.9"/>
<path d="M458.9 345.5H480.9" stroke="#d62728" stroke-width="1.05" stroke-dasharray="3.9 2.2"/>
<g opacity="0.995"><text x="137.31 142.19 146.97 149.51 154.17 156.88 161.17 165.68" y="18.05" transform="scale(0.9940,1)" font-size="7.980" fill="#1a1a1a">15.0 keV</text><text x="14.82 19.75 22.37 27.40" y="146.78" transform="scale(1.0056,1)" font-size="8.358" fill="#1a1a1a">0.00</text><text x="15.49 20.54 23.16 28.42" y="128.17" transform="scale(0.9768,1)" font-size="8.358" fill="#1a1a1a">0.25</text><text x="15.12 20.12 22.78 27.93" y="109.55" transform="scale(0.9880,1)" font-size="8.358" fill="#1a1a1a">0.50</text><text x="15.41 20.44 23.14 28.28" y="90.94" transform="scale(0.9812,1)" font-size="8.358" fill="#1a1a1a">0.75</text><text x="15.00 20.03 22.69 27.80" y="72.33" transform="scale(0.9925,1)" font-size="8.358" fill="#1a1a1a">1.00</text><text x="15.71 20.86 23.54 28.87" y="53.71" transform="scale(0.9626,1)" font-size="8.358" fill="#1a1a1a">1.25</text><text x="15.32 20.42 23.13 28.36" y="35.10" transform="scale(0.9744,1)" font-size="8.358" fill="#1a1a1a">1.50</text><text x="15.63 20.76 23.51 28.73" y="16.49" transform="scale(0.9671,1)" font-size="8.358" fill="#1a1a1a">1.75</text><text x="300.28 305.08 309.94 314.67 317.19 321.82 324.50 328.77 333.24" y="18.05" transform="scale(1.0009,1)" font-size="7.980" fill="#1a1a1a">450.0 keV</text><text x="465.88 470.74 475.62 480.48 485.22 487.75 492.40 495.10 499.39 503.88" y="18.05" transform="scale(0.9964,1)" font-size="7.980" fill="#1a1a1a">1500.0 keV</text><text x="631.52 636.44 641.32 646.17 650.91 653.44 658.08 660.78 665.06 669.55" y="18.05" transform="scale(0.9971,1)" font-size="7.980" fill="#1a1a1a">2500.0 keV</text><text x="137.31 142.19 146.97 149.51 154.17 156.88 161.17 165.68" y="173.88" transform="scale(0.9940,1)" font-size="7.980" fill="#1a1a1a">15.0 keV</text><text x="14.82 19.75 22.37 27.40" y="302.36" transform="scale(1.0056,1)" font-size="8.358" fill="#1a1a1a">0.00</text><text x="15.49 20.54 23.16 28.42" y="283.78" transform="scale(0.9768,1)" font-size="8.358" fill="#1a1a1a">0.25</text><text x="15.12 20.12 22.78 27.93" y="265.20" transform="scale(0.9880,1)" font-size="8.358" fill="#1a1a1a">0.50</text><text x="15.41 20.44 23.14 28.28" y="246.62" transform="scale(0.9812,1)" font-size="8.358" fill="#1a1a1a">0.75</text><text x="15.00 20.03 22.69 27.80" y="228.04" transform="scale(0.9925,1)" font-size="8.358" fill="#1a1a1a">1.00</text><text x="15.71 20.86 23.54 28.87" y="209.46" transform="scale(0.9626,1)" font-size="8.358" fill="#1a1a1a">1.25</text><text x="15.32 20.42 23.13 28.36" y="190.88" transform="scale(0.9744,1)" font-size="8.358" fill="#1a1a1a">1.50</text><text x="15.63 20.76 23.51 28.73" y="172.30" transform="scale(0.9671,1)" font-size="8.358" fill="#1a1a1a">1.75</text><text x="31.13 36.06 38.67" y="310.85" transform="scale(1.0063,1)" font-size="8.358" fill="#1a1a1a">0.0</text><text x="56.11 61.10 63.67" y="310.85" transform="scale(0.9903,1)" font-size="8.358" fill="#1a1a1a">0.2</text><text x="78.92 83.86 86.47" y="310.85" transform="scale(1.0063,1)" font-size="8.358" fill="#1a1a1a">0.4</text><text x="101.25 106.13 108.68" y="310.85" transform="scale(1.0220,1)" font-size="8.358" fill="#1a1a1a">0.6</text><text x="126.18 131.10 133.69" y="310.85" transform="scale(1.0113,1)" font-size="8.358" fill="#1a1a1a">0.8</text><text x="153.48 158.53 161.22" y="310.85" transform="scale(0.9871,1)" font-size="8.358" fill="#1a1a1a">1.0</text><text x="181.20 186.32 188.96" y="310.85" transform="scale(0.9699,1)" font-size="8.358" fill="#1a1a1a">1.2</text><text x="300.28 305.08 309.94 314.67 317.19 321.82 324.50 328.77 333.24" y="173.88" transform="scale(1.0009,1)" font-size="7.980" fill="#1a1a1a">450.0 keV</text><text x="196.17 201.10 203.72" y="310.85" transform="scale(1.0063,1)" font-size="8.358" fill="#1a1a1a">0.0</text><text x="223.74 228.74 231.31" y="310.85" transform="scale(0.9903,1)" font-size="8.358" fill="#1a1a1a">0.2</text><text x="243.83 248.76 251.37" y="310.85" transform="scale(1.0063,1)" font-size="8.358" fill="#1a1a1a">0.4</text><text x="263.55 268.43 270.98" y="310.85" transform="scale(1.0220,1)" font-size="8.358" fill="#1a1a1a">0.6</text><text x="290.14 295.06 297.65" y="310.85" transform="scale(1.0113,1)" font-size="8.358" fill="#1a1a1a">0.8</text><text x="321.39 326.44 329.12" y="310.85" transform="scale(0.9871,1)" font-size="8.358" fill="#1a1a1a">1.0</text><text x="352.01 357.13 359.78" y="310.85" transform="scale(0.9699,1)" font-size="8.358" fill="#1a1a1a">1.2</text><text x="465.88 470.74 475.62 480.48 485.22 487.75 492.40 495.10 499.39 503.88" y="173.88" transform="scale(0.9964,1)" font-size="7.980" fill="#1a1a1a">1500.0 keV</text><text x="361.12 366.06 368.67" y="310.85" transform="scale(1.0063,1)" font-size="8.358" fill="#1a1a1a">0.0</text><text x="391.36 396.36 398.92" y="310.85" transform="scale(0.9903,1)" font-size="8.358" fill="#1a1a1a">0.2</text><text x="408.78 413.71 416.32" y="310.85" transform="scale(1.0063,1)" font-size="8.358" fill="#1a1a1a">0.4</text><text x="425.97 430.85 433.40" y="310.85" transform="scale(1.0220,1)" font-size="8.358" fill="#1a1a1a">0.6</text><text x="454.29 459.21 461.80" y="310.85" transform="scale(1.0113,1)" font-size="8.358" fill="#1a1a1a">0.8</text><text x="489.56 494.60 497.29" y="310.85" transform="scale(0.9871,1)" font-size="8.358" fill="#1a1a1a">1.0</text><text x="523.16 528.28 530.93" y="310.85" transform="scale(0.9699,1)" font-size="8.358" fill="#1a1a1a">1.2</text><text x="631.52 636.44 641.32 646.17 650.91 653.44 658.08 660.78 665.06 669.55" y="173.88" transform="scale(0.9971,1)" font-size="7.980" fill="#1a1a1a">2500.0 keV</text><text x="525.58 530.51 533.12" y="310.85" transform="scale(1.0063,1)" font-size="8.358" fill="#1a1a1a">0.0</text><text x="558.54 563.54 566.10" y="310.85" transform="scale(0.9903,1)" font-size="8.358" fill="#1a1a1a">0.2</text><text x="573.37 578.30 580.91" y="310.85" transform="scale(1.0063,1)" font-size="8.358" fill="#1a1a1a">0.4</text><text x="588.10 592.98 595.53" y="310.85" transform="scale(1.0220,1)" font-size="8.358" fill="#1a1a1a">0.6</text><text x="618.21 623.13 625.72" y="310.85" transform="scale(1.0113,1)" font-size="8.358" fill="#1a1a1a">0.8</text><text x="657.55 662.60 665.29" y="310.85" transform="scale(0.9871,1)" font-size="8.358" fill="#1a1a1a">1.0</text><text x="694.21 699.33 701.97" y="310.85" transform="scale(0.9699,1)" font-size="8.358" fill="#1a1a1a">1.2</text><text x="0.42" y="12.07" transform="scale(0.9594,1)" font-size="17.640" fill="#000" stroke="#000" stroke-width="0.12">A</text><text x="0.56" y="166.75" transform="scale(0.9253,1)" font-size="17.640" fill="#000" stroke="#000" stroke-width="0.12">B</text><g transform="translate(10.8,73.45) rotate(-90)"><text x="-10.55 -6.19 -0.22 4.99" y="0.00" transform="scale(0.9282,1)" font-size="7.980" fill="#111" stroke="#111" stroke-width="0.1">sDPK</text></g><g transform="translate(10.8,229.16) rotate(-90)"><text x="-10.55 -6.19 -0.22 4.99" y="0.00" transform="scale(0.9282,1)" font-size="7.980" fill="#111" stroke="#111" stroke-width="0.1">sDPK</text></g><text x="82.18" y="321.80" transform="scale(1.1636,1)" font-size="9.030" font-style="italic" fill="#1a1a1a" stroke="#1a1a1a" stroke-width="0.12">r</text><text x="86.24" y="322.60" transform="scale(1.1549,1)" font-size="9.030" fill="#1a1a1a" stroke="#1a1a1a" stroke-width="0.12">/</text><text x="120.34" y="321.90" transform="scale(0.8500,1)" font-size="9.135" font-style="italic" fill="#1a1a1a" stroke="#1a1a1a" stroke-width="0.12">R</text><text x="109.15 112.52 115.91 119.85" y="323.60" transform="scale(0.9989,1)" font-size="6.615" font-style="italic" fill="#1a1a1a" stroke="#1a1a1a" stroke-width="0.15">csda</text><text x="224.74" y="321.80" transform="scale(1.1636,1)" font-size="9.030" font-style="italic" fill="#1a1a1a" stroke="#1a1a1a" stroke-width="0.12">r</text><text x="229.87" y="322.60" transform="scale(1.1549,1)" font-size="9.030" fill="#1a1a1a" stroke="#1a1a1a" stroke-width="0.12">/</text><text x="315.49" y="321.90" transform="scale(0.8500,1)" font-size="9.135" font-style="italic" fill="#1a1a1a" stroke="#1a1a1a" stroke-width="0.12">R</text><text x="275.22 278.59 281.98 285.92" y="323.60" transform="scale(0.9989,1)" font-size="6.615" font-style="italic" fill="#1a1a1a" stroke="#1a1a1a" stroke-width="0.15">csda</text><text x="367.41" y="321.80" transform="scale(1.1636,1)" font-size="9.030" font-style="italic" fill="#1a1a1a" stroke="#1a1a1a" stroke-width="0.12">r</text><text x="373.61" y="322.60" transform="scale(1.1549,1)" font-size="9.030" fill="#1a1a1a" stroke="#1a1a1a" stroke-width="0.12">/</text><text x="510.79" y="321.90" transform="scale(0.8500,1)" font-size="9.135" font-style="italic" fill="#1a1a1a" stroke="#1a1a1a" stroke-width="0.12">R</text><text x="441.41 444.78 448.17 452.11" y="323.60" transform="scale(0.9989,1)" font-size="6.615" font-style="italic" fill="#1a1a1a" stroke="#1a1a1a" stroke-width="0.15">csda</text><text x="509.81" y="321.80" transform="scale(1.1636,1)" font-size="9.030" font-style="italic" fill="#1a1a1a" stroke="#1a1a1a" stroke-width="0.12">r</text><text x="517.08" y="322.60" transform="scale(1.1549,1)" font-size="9.030" fill="#1a1a1a" stroke="#1a1a1a" stroke-width="0.12">/</text><text x="705.73" y="321.90" transform="scale(0.8500,1)" font-size="9.135" font-style="italic" fill="#1a1a1a" stroke="#1a1a1a" stroke-width="0.12">R</text><text x="607.30 610.68 614.07 618.00" y="323.60" transform="scale(0.9989,1)" font-size="6.615" font-style="italic" fill="#1a1a1a" stroke="#1a1a1a" stroke-width="0.15">csda</text><text x="220.79 228.74 231.72 238.61 245.48" y="349.70" transform="scale(0.9950,1)" font-size="11.340" fill="#1a1a1a">Ridge</text><text x="323.33 329.41 336.79 342.82 348.97" y="349.70" transform="scale(0.9336,1)" font-size="11.340" fill="#1a1a1a">Lasso</text><text x="395.46 403.08 405.73 412.86 419.10 423.18 426.07 432.17 440.73 447.87" y="349.70" transform="scale(0.9696,1)" font-size="11.340" fill="#1a1a1a">ElasticNet</text><text x="533.01 542.76" y="349.70" transform="scale(0.9177,1)" font-size="11.340" fill="#1a1a1a">MC</text></g>
</svg>
</body></html>
